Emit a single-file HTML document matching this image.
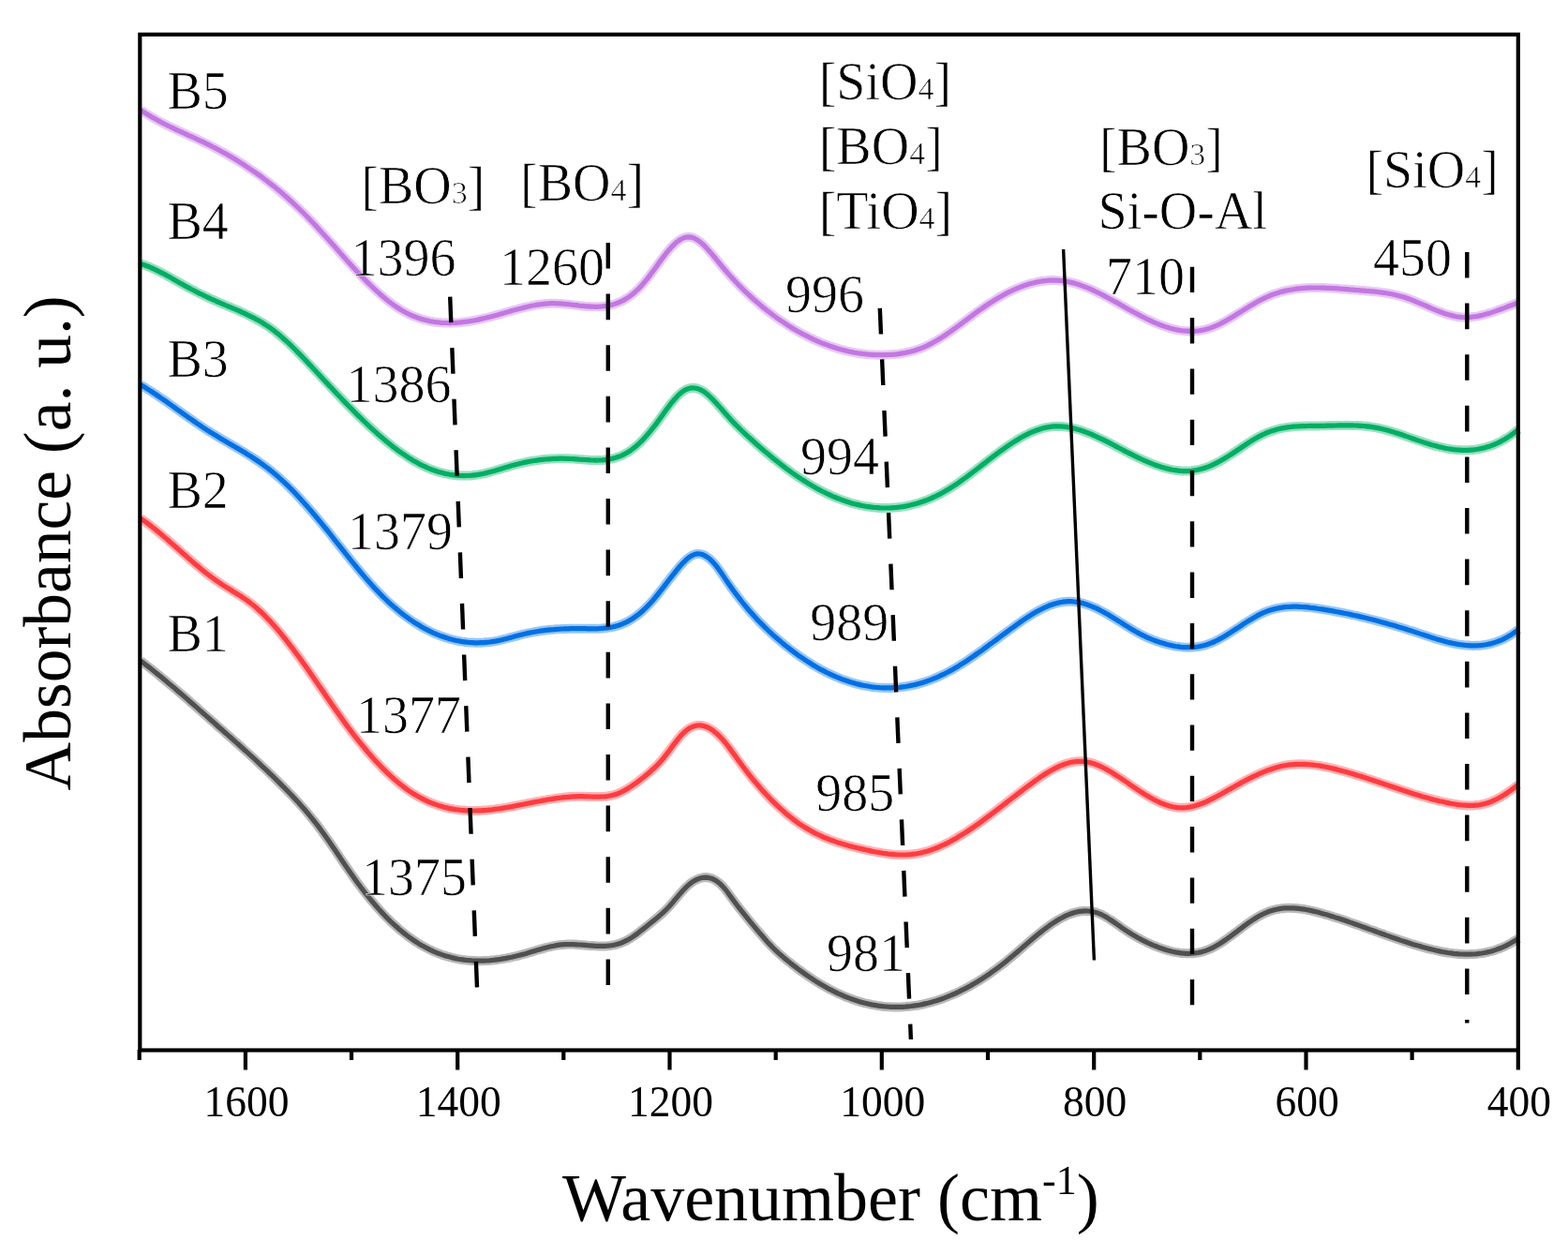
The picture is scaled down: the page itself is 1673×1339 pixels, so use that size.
<!DOCTYPE html>
<html><head><meta charset="utf-8"><title>FTIR spectra</title>
<style>
html,body{margin:0;padding:0;background:#fff;width:1673px;height:1339px;overflow:hidden}
svg{display:block}
text{font-family:"Liberation Serif","Times New Roman",serif;fill:#000}
.an{stroke:#fff;stroke-width:0.7px;paint-order:fill stroke}
.an{font-size:56px}
.tl{font-size:45.5px}
.ax{font-size:72px}
.ay{font-size:71.5px}
</style></head><body>
<svg xmlns="http://www.w3.org/2000/svg" width="1673" height="1339" viewBox="0 0 1673 1339"><rect x="0" y="0" width="1673" height="1339" fill="#fff"/>
<path d="M150.0,705.0 L153.0,707.3 L156.0,709.6 L159.0,711.9 L162.0,714.3 L165.0,716.7 L168.0,719.1 L171.0,721.6 L174.0,724.1 L177.0,726.5 L180.0,729.1 L183.0,731.6 L186.0,734.1 L189.0,736.7 L192.0,739.3 L195.0,741.8 L198.0,744.4 L201.0,747.0 L204.0,749.7 L207.0,752.3 L210.0,754.9 L213.0,757.6 L216.0,760.2 L219.0,762.9 L222.0,765.5 L225.0,768.2 L228.0,770.8 L231.0,773.5 L234.0,776.2 L237.0,778.8 L240.0,781.5 L243.0,784.1 L246.0,786.8 L249.0,789.5 L252.0,792.1 L255.0,794.8 L258.0,797.5 L261.0,800.2 L264.0,802.9 L267.0,805.7 L270.0,808.4 L273.0,811.2 L276.0,814.0 L279.0,816.8 L282.0,819.6 L285.0,822.4 L288.0,825.3 L291.0,828.2 L294.0,831.1 L297.0,834.1 L300.0,837.1 L303.0,840.1 L306.0,843.1 L309.0,846.2 L312.0,849.4 L315.0,852.6 L318.0,855.8 L321.0,859.2 L324.0,862.5 L327.0,866.0 L330.0,869.6 L333.0,873.3 L336.0,877.0 L339.0,880.9 L342.0,884.9 L345.0,889.1 L348.0,893.3 L351.0,897.6 L354.0,901.9 L357.0,906.3 L360.0,910.8 L363.0,915.2 L366.0,919.7 L369.0,924.1 L372.0,928.4 L375.0,932.8 L378.0,937.0 L381.0,941.2 L384.0,945.2 L387.0,949.2 L390.0,953.1 L393.0,956.8 L396.0,960.5 L399.0,964.0 L402.0,967.5 L405.0,970.9 L408.0,974.1 L411.0,977.3 L414.0,980.3 L417.0,983.3 L420.0,986.1 L423.0,988.8 L426.0,991.5 L429.0,994.0 L432.0,996.4 L435.0,998.7 L438.0,1000.9 L441.0,1003.0 L444.0,1005.0 L447.0,1006.9 L450.0,1008.7 L453.0,1010.3 L456.0,1011.9 L459.0,1013.4 L462.0,1014.8 L465.0,1016.1 L468.0,1017.3 L471.0,1018.4 L474.0,1019.4 L477.0,1020.3 L480.0,1021.1 L483.0,1021.9 L486.0,1022.6 L489.0,1023.2 L492.0,1023.7 L495.0,1024.1 L498.0,1024.5 L501.0,1024.7 L504.0,1025.0 L507.0,1025.1 L510.0,1025.2 L513.0,1025.2 L516.0,1025.1 L519.0,1025.0 L522.0,1024.8 L525.0,1024.5 L528.0,1024.2 L531.0,1023.8 L534.0,1023.4 L537.0,1022.9 L540.0,1022.4 L543.0,1021.8 L546.0,1021.2 L549.0,1020.5 L552.0,1019.8 L555.0,1019.0 L558.0,1018.2 L561.0,1017.4 L564.0,1016.5 L567.0,1015.6 L570.0,1014.7 L573.0,1013.8 L576.0,1012.9 L579.0,1012.1 L582.0,1011.2 L585.0,1010.5 L588.0,1009.8 L591.0,1009.2 L594.0,1008.6 L597.0,1008.2 L600.0,1007.9 L603.0,1007.7 L606.0,1007.6 L609.0,1007.6 L612.0,1007.6 L615.0,1007.8 L618.0,1008.0 L621.0,1008.2 L624.0,1008.4 L627.0,1008.7 L630.0,1008.9 L633.0,1009.1 L636.0,1009.3 L639.0,1009.4 L642.0,1009.4 L645.0,1009.4 L648.0,1009.2 L651.0,1008.9 L654.0,1008.5 L657.0,1007.8 L660.0,1007.0 L663.0,1006.0 L666.0,1004.7 L669.0,1003.2 L672.0,1001.5 L675.0,999.6 L678.0,997.5 L681.0,995.3 L684.0,992.9 L687.0,990.6 L690.0,988.2 L693.0,985.8 L696.0,983.4 L699.0,980.9 L702.0,978.5 L705.0,975.9 L708.0,973.2 L711.0,970.3 L714.0,967.2 L717.0,963.8 L720.0,960.2 L723.0,956.6 L726.0,953.1 L729.0,949.7 L732.0,946.6 L735.0,943.9 L738.0,941.5 L741.0,939.6 L744.0,938.1 L747.0,937.0 L750.0,936.3 L753.0,936.1 L756.0,936.4 L759.0,937.2 L762.0,938.5 L765.0,940.3 L768.0,942.7 L771.0,945.6 L774.0,949.0 L777.0,953.0 L780.0,957.1 L783.0,961.2 L786.0,965.2 L789.0,969.1 L792.0,972.9 L795.0,976.7 L798.0,980.4 L801.0,984.1 L804.0,987.7 L807.0,991.2 L810.0,994.8 L813.0,998.3 L816.0,1001.8 L819.0,1005.2 L822.0,1008.4 L825.0,1011.5 L828.0,1014.4 L831.0,1017.2 L834.0,1019.8 L837.0,1022.4 L840.0,1024.8 L843.0,1027.2 L846.0,1029.6 L849.0,1031.9 L852.0,1034.2 L855.0,1036.4 L858.0,1038.5 L861.0,1040.6 L864.0,1042.7 L867.0,1044.7 L870.0,1046.6 L873.0,1048.5 L876.0,1050.3 L879.0,1052.0 L882.0,1053.7 L885.0,1055.4 L888.0,1056.9 L891.0,1058.4 L894.0,1059.9 L897.0,1061.2 L900.0,1062.5 L903.0,1063.8 L906.0,1064.9 L909.0,1066.0 L912.0,1067.1 L915.0,1068.0 L918.0,1068.9 L921.0,1069.8 L924.0,1070.5 L927.0,1071.2 L930.0,1071.9 L933.0,1072.4 L936.0,1072.9 L939.0,1073.3 L942.0,1073.7 L945.0,1074.0 L948.0,1074.2 L951.0,1074.3 L954.0,1074.4 L957.0,1074.4 L960.0,1074.4 L963.0,1074.3 L966.0,1074.1 L969.0,1073.8 L972.0,1073.5 L975.0,1073.1 L978.0,1072.7 L981.0,1072.2 L984.0,1071.6 L987.0,1070.9 L990.0,1070.2 L993.0,1069.4 L996.0,1068.6 L999.0,1067.7 L1002.0,1066.7 L1005.0,1065.7 L1008.0,1064.6 L1011.0,1063.4 L1014.0,1062.2 L1017.0,1060.9 L1020.0,1059.6 L1023.0,1058.2 L1026.0,1056.7 L1029.0,1055.2 L1032.0,1053.6 L1035.0,1052.0 L1038.0,1050.2 L1041.0,1048.5 L1044.0,1046.7 L1047.0,1044.8 L1050.0,1042.8 L1053.0,1040.8 L1056.0,1038.8 L1059.0,1036.7 L1062.0,1034.5 L1065.0,1032.3 L1068.0,1030.0 L1071.0,1027.7 L1074.0,1025.3 L1077.0,1022.8 L1080.0,1020.3 L1083.0,1017.8 L1086.0,1015.2 L1089.0,1012.6 L1092.0,1010.0 L1095.0,1007.5 L1098.0,1004.9 L1101.0,1002.3 L1104.0,999.8 L1107.0,997.3 L1110.0,994.9 L1113.0,992.5 L1116.0,990.2 L1119.0,988.0 L1122.0,985.9 L1125.0,983.9 L1128.0,982.1 L1131.0,980.3 L1134.0,978.7 L1137.0,977.2 L1140.0,975.9 L1143.0,974.8 L1146.0,973.8 L1149.0,973.0 L1152.0,972.4 L1155.0,972.1 L1158.0,971.9 L1161.0,972.0 L1164.0,972.3 L1167.0,972.9 L1170.0,973.7 L1173.0,974.9 L1176.0,976.2 L1179.0,977.8 L1182.0,979.6 L1185.0,981.5 L1188.0,983.5 L1191.0,985.6 L1194.0,987.7 L1197.0,989.8 L1200.0,991.8 L1203.0,993.8 L1206.0,995.7 L1209.0,997.6 L1212.0,999.3 L1215.0,1001.0 L1218.0,1002.6 L1221.0,1004.1 L1224.0,1005.6 L1227.0,1007.0 L1230.0,1008.3 L1233.0,1009.5 L1236.0,1010.7 L1239.0,1011.7 L1242.0,1012.7 L1245.0,1013.7 L1248.0,1014.5 L1251.0,1015.3 L1254.0,1015.9 L1257.0,1016.4 L1260.0,1016.9 L1263.0,1017.1 L1266.0,1017.3 L1269.0,1017.3 L1272.0,1017.2 L1275.0,1016.9 L1278.0,1016.5 L1281.0,1015.9 L1284.0,1015.1 L1287.0,1014.1 L1290.0,1012.9 L1293.0,1011.6 L1296.0,1010.0 L1299.0,1008.3 L1302.0,1006.5 L1305.0,1004.5 L1308.0,1002.5 L1311.0,1000.3 L1314.0,998.1 L1317.0,995.9 L1320.0,993.6 L1323.0,991.4 L1326.0,989.1 L1329.0,986.9 L1332.0,984.7 L1335.0,982.7 L1338.0,980.7 L1341.0,978.8 L1344.0,977.1 L1347.0,975.5 L1350.0,974.1 L1353.0,972.8 L1356.0,971.8 L1359.0,970.9 L1362.0,970.2 L1365.0,969.6 L1368.0,969.2 L1371.0,968.9 L1374.0,968.8 L1377.0,968.8 L1380.0,968.9 L1383.0,969.1 L1386.0,969.4 L1389.0,969.8 L1392.0,970.2 L1395.0,970.8 L1398.0,971.4 L1401.0,972.1 L1404.0,972.8 L1407.0,973.6 L1410.0,974.4 L1413.0,975.3 L1416.0,976.1 L1419.0,977.0 L1422.0,977.9 L1425.0,978.9 L1428.0,979.8 L1431.0,980.8 L1434.0,981.8 L1437.0,982.8 L1440.0,983.9 L1443.0,984.9 L1446.0,986.0 L1449.0,987.0 L1452.0,988.1 L1455.0,989.2 L1458.0,990.3 L1461.0,991.4 L1464.0,992.4 L1467.0,993.5 L1470.0,994.6 L1473.0,995.7 L1476.0,996.8 L1479.0,997.9 L1482.0,998.9 L1485.0,1000.0 L1488.0,1001.0 L1491.0,1002.0 L1494.0,1003.1 L1497.0,1004.1 L1500.0,1005.0 L1503.0,1006.0 L1506.0,1007.0 L1509.0,1007.9 L1512.0,1008.8 L1515.0,1009.6 L1518.0,1010.5 L1521.0,1011.3 L1524.0,1012.1 L1527.0,1012.8 L1530.0,1013.5 L1533.0,1014.2 L1536.0,1014.9 L1539.0,1015.5 L1542.0,1016.0 L1545.0,1016.5 L1548.0,1016.9 L1551.0,1017.3 L1554.0,1017.6 L1557.0,1017.9 L1560.0,1018.0 L1563.0,1018.2 L1566.0,1018.2 L1569.0,1018.1 L1572.0,1018.0 L1575.0,1017.8 L1578.0,1017.4 L1581.0,1017.0 L1584.0,1016.5 L1587.0,1015.9 L1590.0,1015.2 L1593.0,1014.4 L1596.0,1013.4 L1599.0,1012.3 L1602.0,1011.2 L1605.0,1009.9 L1608.0,1008.4 L1611.0,1006.8 L1614.0,1005.1 L1617.0,1003.3 L1620.0,1001.3" fill="none" stroke="#505050" stroke-opacity="0.4" stroke-width="10" stroke-linejoin="round" stroke-linecap="butt"/>
<path d="M150.0,705.0 L153.0,707.3 L156.0,709.6 L159.0,711.9 L162.0,714.3 L165.0,716.7 L168.0,719.1 L171.0,721.6 L174.0,724.1 L177.0,726.5 L180.0,729.1 L183.0,731.6 L186.0,734.1 L189.0,736.7 L192.0,739.3 L195.0,741.8 L198.0,744.4 L201.0,747.0 L204.0,749.7 L207.0,752.3 L210.0,754.9 L213.0,757.6 L216.0,760.2 L219.0,762.9 L222.0,765.5 L225.0,768.2 L228.0,770.8 L231.0,773.5 L234.0,776.2 L237.0,778.8 L240.0,781.5 L243.0,784.1 L246.0,786.8 L249.0,789.5 L252.0,792.1 L255.0,794.8 L258.0,797.5 L261.0,800.2 L264.0,802.9 L267.0,805.7 L270.0,808.4 L273.0,811.2 L276.0,814.0 L279.0,816.8 L282.0,819.6 L285.0,822.4 L288.0,825.3 L291.0,828.2 L294.0,831.1 L297.0,834.1 L300.0,837.1 L303.0,840.1 L306.0,843.1 L309.0,846.2 L312.0,849.4 L315.0,852.6 L318.0,855.8 L321.0,859.2 L324.0,862.5 L327.0,866.0 L330.0,869.6 L333.0,873.3 L336.0,877.0 L339.0,880.9 L342.0,884.9 L345.0,889.1 L348.0,893.3 L351.0,897.6 L354.0,901.9 L357.0,906.3 L360.0,910.8 L363.0,915.2 L366.0,919.7 L369.0,924.1 L372.0,928.4 L375.0,932.8 L378.0,937.0 L381.0,941.2 L384.0,945.2 L387.0,949.2 L390.0,953.1 L393.0,956.8 L396.0,960.5 L399.0,964.0 L402.0,967.5 L405.0,970.9 L408.0,974.1 L411.0,977.3 L414.0,980.3 L417.0,983.3 L420.0,986.1 L423.0,988.8 L426.0,991.5 L429.0,994.0 L432.0,996.4 L435.0,998.7 L438.0,1000.9 L441.0,1003.0 L444.0,1005.0 L447.0,1006.9 L450.0,1008.7 L453.0,1010.3 L456.0,1011.9 L459.0,1013.4 L462.0,1014.8 L465.0,1016.1 L468.0,1017.3 L471.0,1018.4 L474.0,1019.4 L477.0,1020.3 L480.0,1021.1 L483.0,1021.9 L486.0,1022.6 L489.0,1023.2 L492.0,1023.7 L495.0,1024.1 L498.0,1024.5 L501.0,1024.7 L504.0,1025.0 L507.0,1025.1 L510.0,1025.2 L513.0,1025.2 L516.0,1025.1 L519.0,1025.0 L522.0,1024.8 L525.0,1024.5 L528.0,1024.2 L531.0,1023.8 L534.0,1023.4 L537.0,1022.9 L540.0,1022.4 L543.0,1021.8 L546.0,1021.2 L549.0,1020.5 L552.0,1019.8 L555.0,1019.0 L558.0,1018.2 L561.0,1017.4 L564.0,1016.5 L567.0,1015.6 L570.0,1014.7 L573.0,1013.8 L576.0,1012.9 L579.0,1012.1 L582.0,1011.2 L585.0,1010.5 L588.0,1009.8 L591.0,1009.2 L594.0,1008.6 L597.0,1008.2 L600.0,1007.9 L603.0,1007.7 L606.0,1007.6 L609.0,1007.6 L612.0,1007.6 L615.0,1007.8 L618.0,1008.0 L621.0,1008.2 L624.0,1008.4 L627.0,1008.7 L630.0,1008.9 L633.0,1009.1 L636.0,1009.3 L639.0,1009.4 L642.0,1009.4 L645.0,1009.4 L648.0,1009.2 L651.0,1008.9 L654.0,1008.5 L657.0,1007.8 L660.0,1007.0 L663.0,1006.0 L666.0,1004.7 L669.0,1003.2 L672.0,1001.5 L675.0,999.6 L678.0,997.5 L681.0,995.3 L684.0,992.9 L687.0,990.6 L690.0,988.2 L693.0,985.8 L696.0,983.4 L699.0,980.9 L702.0,978.5 L705.0,975.9 L708.0,973.2 L711.0,970.3 L714.0,967.2 L717.0,963.8 L720.0,960.2 L723.0,956.6 L726.0,953.1 L729.0,949.7 L732.0,946.6 L735.0,943.9 L738.0,941.5 L741.0,939.6 L744.0,938.1 L747.0,937.0 L750.0,936.3 L753.0,936.1 L756.0,936.4 L759.0,937.2 L762.0,938.5 L765.0,940.3 L768.0,942.7 L771.0,945.6 L774.0,949.0 L777.0,953.0 L780.0,957.1 L783.0,961.2 L786.0,965.2 L789.0,969.1 L792.0,972.9 L795.0,976.7 L798.0,980.4 L801.0,984.1 L804.0,987.7 L807.0,991.2 L810.0,994.8 L813.0,998.3 L816.0,1001.8 L819.0,1005.2 L822.0,1008.4 L825.0,1011.5 L828.0,1014.4 L831.0,1017.2 L834.0,1019.8 L837.0,1022.4 L840.0,1024.8 L843.0,1027.2 L846.0,1029.6 L849.0,1031.9 L852.0,1034.2 L855.0,1036.4 L858.0,1038.5 L861.0,1040.6 L864.0,1042.7 L867.0,1044.7 L870.0,1046.6 L873.0,1048.5 L876.0,1050.3 L879.0,1052.0 L882.0,1053.7 L885.0,1055.4 L888.0,1056.9 L891.0,1058.4 L894.0,1059.9 L897.0,1061.2 L900.0,1062.5 L903.0,1063.8 L906.0,1064.9 L909.0,1066.0 L912.0,1067.1 L915.0,1068.0 L918.0,1068.9 L921.0,1069.8 L924.0,1070.5 L927.0,1071.2 L930.0,1071.9 L933.0,1072.4 L936.0,1072.9 L939.0,1073.3 L942.0,1073.7 L945.0,1074.0 L948.0,1074.2 L951.0,1074.3 L954.0,1074.4 L957.0,1074.4 L960.0,1074.4 L963.0,1074.3 L966.0,1074.1 L969.0,1073.8 L972.0,1073.5 L975.0,1073.1 L978.0,1072.7 L981.0,1072.2 L984.0,1071.6 L987.0,1070.9 L990.0,1070.2 L993.0,1069.4 L996.0,1068.6 L999.0,1067.7 L1002.0,1066.7 L1005.0,1065.7 L1008.0,1064.6 L1011.0,1063.4 L1014.0,1062.2 L1017.0,1060.9 L1020.0,1059.6 L1023.0,1058.2 L1026.0,1056.7 L1029.0,1055.2 L1032.0,1053.6 L1035.0,1052.0 L1038.0,1050.2 L1041.0,1048.5 L1044.0,1046.7 L1047.0,1044.8 L1050.0,1042.8 L1053.0,1040.8 L1056.0,1038.8 L1059.0,1036.7 L1062.0,1034.5 L1065.0,1032.3 L1068.0,1030.0 L1071.0,1027.7 L1074.0,1025.3 L1077.0,1022.8 L1080.0,1020.3 L1083.0,1017.8 L1086.0,1015.2 L1089.0,1012.6 L1092.0,1010.0 L1095.0,1007.5 L1098.0,1004.9 L1101.0,1002.3 L1104.0,999.8 L1107.0,997.3 L1110.0,994.9 L1113.0,992.5 L1116.0,990.2 L1119.0,988.0 L1122.0,985.9 L1125.0,983.9 L1128.0,982.1 L1131.0,980.3 L1134.0,978.7 L1137.0,977.2 L1140.0,975.9 L1143.0,974.8 L1146.0,973.8 L1149.0,973.0 L1152.0,972.4 L1155.0,972.1 L1158.0,971.9 L1161.0,972.0 L1164.0,972.3 L1167.0,972.9 L1170.0,973.7 L1173.0,974.9 L1176.0,976.2 L1179.0,977.8 L1182.0,979.6 L1185.0,981.5 L1188.0,983.5 L1191.0,985.6 L1194.0,987.7 L1197.0,989.8 L1200.0,991.8 L1203.0,993.8 L1206.0,995.7 L1209.0,997.6 L1212.0,999.3 L1215.0,1001.0 L1218.0,1002.6 L1221.0,1004.1 L1224.0,1005.6 L1227.0,1007.0 L1230.0,1008.3 L1233.0,1009.5 L1236.0,1010.7 L1239.0,1011.7 L1242.0,1012.7 L1245.0,1013.7 L1248.0,1014.5 L1251.0,1015.3 L1254.0,1015.9 L1257.0,1016.4 L1260.0,1016.9 L1263.0,1017.1 L1266.0,1017.3 L1269.0,1017.3 L1272.0,1017.2 L1275.0,1016.9 L1278.0,1016.5 L1281.0,1015.9 L1284.0,1015.1 L1287.0,1014.1 L1290.0,1012.9 L1293.0,1011.6 L1296.0,1010.0 L1299.0,1008.3 L1302.0,1006.5 L1305.0,1004.5 L1308.0,1002.5 L1311.0,1000.3 L1314.0,998.1 L1317.0,995.9 L1320.0,993.6 L1323.0,991.4 L1326.0,989.1 L1329.0,986.9 L1332.0,984.7 L1335.0,982.7 L1338.0,980.7 L1341.0,978.8 L1344.0,977.1 L1347.0,975.5 L1350.0,974.1 L1353.0,972.8 L1356.0,971.8 L1359.0,970.9 L1362.0,970.2 L1365.0,969.6 L1368.0,969.2 L1371.0,968.9 L1374.0,968.8 L1377.0,968.8 L1380.0,968.9 L1383.0,969.1 L1386.0,969.4 L1389.0,969.8 L1392.0,970.2 L1395.0,970.8 L1398.0,971.4 L1401.0,972.1 L1404.0,972.8 L1407.0,973.6 L1410.0,974.4 L1413.0,975.3 L1416.0,976.1 L1419.0,977.0 L1422.0,977.9 L1425.0,978.9 L1428.0,979.8 L1431.0,980.8 L1434.0,981.8 L1437.0,982.8 L1440.0,983.9 L1443.0,984.9 L1446.0,986.0 L1449.0,987.0 L1452.0,988.1 L1455.0,989.2 L1458.0,990.3 L1461.0,991.4 L1464.0,992.4 L1467.0,993.5 L1470.0,994.6 L1473.0,995.7 L1476.0,996.8 L1479.0,997.9 L1482.0,998.9 L1485.0,1000.0 L1488.0,1001.0 L1491.0,1002.0 L1494.0,1003.1 L1497.0,1004.1 L1500.0,1005.0 L1503.0,1006.0 L1506.0,1007.0 L1509.0,1007.9 L1512.0,1008.8 L1515.0,1009.6 L1518.0,1010.5 L1521.0,1011.3 L1524.0,1012.1 L1527.0,1012.8 L1530.0,1013.5 L1533.0,1014.2 L1536.0,1014.9 L1539.0,1015.5 L1542.0,1016.0 L1545.0,1016.5 L1548.0,1016.9 L1551.0,1017.3 L1554.0,1017.6 L1557.0,1017.9 L1560.0,1018.0 L1563.0,1018.2 L1566.0,1018.2 L1569.0,1018.1 L1572.0,1018.0 L1575.0,1017.8 L1578.0,1017.4 L1581.0,1017.0 L1584.0,1016.5 L1587.0,1015.9 L1590.0,1015.2 L1593.0,1014.4 L1596.0,1013.4 L1599.0,1012.3 L1602.0,1011.2 L1605.0,1009.9 L1608.0,1008.4 L1611.0,1006.8 L1614.0,1005.1 L1617.0,1003.3 L1620.0,1001.3" fill="none" stroke="#505050" stroke-width="5.2" stroke-linejoin="round" stroke-linecap="butt"/>
<path d="M150.0,553.1 L153.0,555.2 L156.0,557.4 L159.0,559.6 L162.0,562.0 L165.0,564.3 L168.0,566.8 L171.0,569.3 L174.0,571.8 L177.0,574.4 L180.0,577.0 L183.0,579.6 L186.0,582.2 L189.0,584.9 L192.0,587.5 L195.0,590.2 L198.0,592.8 L201.0,595.5 L204.0,598.1 L207.0,600.7 L210.0,603.2 L213.0,605.8 L216.0,608.2 L219.0,610.7 L222.0,613.0 L225.0,615.3 L228.0,617.5 L231.0,619.7 L234.0,621.7 L237.0,623.7 L240.0,625.6 L243.0,627.5 L246.0,629.3 L249.0,631.2 L252.0,633.0 L255.0,634.9 L258.0,636.8 L261.0,638.8 L264.0,640.9 L267.0,643.2 L270.0,645.5 L273.0,648.0 L276.0,650.7 L279.0,653.5 L282.0,656.4 L285.0,659.5 L288.0,662.6 L291.0,665.9 L294.0,669.3 L297.0,672.8 L300.0,676.4 L303.0,680.1 L306.0,683.9 L309.0,687.8 L312.0,691.7 L315.0,695.7 L318.0,699.8 L321.0,703.9 L324.0,708.1 L327.0,712.3 L330.0,716.6 L333.0,720.9 L336.0,725.2 L339.0,729.6 L342.0,733.9 L345.0,738.3 L348.0,742.7 L351.0,747.1 L354.0,751.4 L357.0,755.7 L360.0,760.0 L363.0,764.3 L366.0,768.5 L369.0,772.6 L372.0,776.7 L375.0,780.7 L378.0,784.6 L381.0,788.5 L384.0,792.2 L387.0,795.9 L390.0,799.5 L393.0,803.1 L396.0,806.5 L399.0,809.9 L402.0,813.2 L405.0,816.3 L408.0,819.4 L411.0,822.4 L414.0,825.3 L417.0,828.1 L420.0,830.8 L423.0,833.4 L426.0,835.9 L429.0,838.3 L432.0,840.6 L435.0,842.8 L438.0,844.8 L441.0,846.8 L444.0,848.6 L447.0,850.3 L450.0,851.9 L453.0,853.4 L456.0,854.8 L459.0,856.1 L462.0,857.3 L465.0,858.4 L468.0,859.4 L471.0,860.3 L474.0,861.2 L477.0,861.9 L480.0,862.6 L483.0,863.1 L486.0,863.6 L489.0,864.0 L492.0,864.4 L495.0,864.6 L498.0,864.8 L501.0,864.9 L504.0,865.0 L507.0,865.0 L510.0,864.9 L513.0,864.8 L516.0,864.6 L519.0,864.4 L522.0,864.1 L525.0,863.8 L528.0,863.4 L531.0,863.0 L534.0,862.6 L537.0,862.1 L540.0,861.6 L543.0,861.1 L546.0,860.6 L549.0,860.0 L552.0,859.4 L555.0,858.8 L558.0,858.2 L561.0,857.6 L564.0,857.0 L567.0,856.4 L570.0,855.8 L573.0,855.2 L576.0,854.7 L579.0,854.1 L582.0,853.6 L585.0,853.0 L588.0,852.6 L591.0,852.1 L594.0,851.7 L597.0,851.3 L600.0,850.9 L603.0,850.6 L606.0,850.3 L609.0,850.1 L612.0,849.9 L615.0,849.8 L618.0,849.7 L621.0,849.7 L624.0,849.8 L627.0,849.9 L630.0,850.0 L633.0,850.1 L636.0,850.1 L639.0,850.1 L642.0,850.0 L645.0,849.8 L648.0,849.5 L651.0,849.0 L654.0,848.3 L657.0,847.5 L660.0,846.4 L663.0,845.0 L666.0,843.5 L669.0,841.8 L672.0,839.9 L675.0,837.9 L678.0,835.8 L681.0,833.6 L684.0,831.3 L687.0,829.0 L690.0,826.5 L693.0,824.0 L696.0,821.3 L699.0,818.5 L702.0,815.5 L705.0,812.2 L708.0,808.7 L711.0,804.9 L714.0,801.0 L717.0,796.9 L720.0,792.9 L723.0,789.0 L726.0,785.4 L729.0,782.2 L732.0,779.5 L735.0,777.3 L738.0,775.7 L741.0,774.6 L744.0,774.0 L747.0,773.9 L750.0,774.3 L753.0,775.2 L756.0,776.5 L759.0,778.2 L762.0,780.4 L765.0,782.9 L768.0,785.8 L771.0,789.0 L774.0,792.5 L777.0,796.4 L780.0,800.4 L783.0,804.6 L786.0,808.8 L789.0,812.9 L792.0,817.0 L795.0,820.9 L798.0,824.8 L801.0,828.6 L804.0,832.3 L807.0,835.8 L810.0,839.3 L813.0,842.7 L816.0,846.0 L819.0,849.3 L822.0,852.4 L825.0,855.4 L828.0,858.3 L831.0,861.2 L834.0,863.9 L837.0,866.5 L840.0,869.1 L843.0,871.5 L846.0,873.9 L849.0,876.1 L852.0,878.3 L855.0,880.3 L858.0,882.3 L861.0,884.1 L864.0,885.8 L867.0,887.5 L870.0,889.1 L873.0,890.5 L876.0,891.9 L879.0,893.3 L882.0,894.5 L885.0,895.7 L888.0,896.8 L891.0,897.9 L894.0,898.9 L897.0,899.8 L900.0,900.7 L903.0,901.6 L906.0,902.4 L909.0,903.2 L912.0,904.0 L915.0,904.7 L918.0,905.4 L921.0,906.1 L924.0,906.8 L927.0,907.4 L930.0,908.1 L933.0,908.7 L936.0,909.3 L939.0,909.8 L942.0,910.3 L945.0,910.7 L948.0,911.1 L951.0,911.4 L954.0,911.7 L957.0,911.9 L960.0,912.0 L963.0,912.0 L966.0,912.0 L969.0,911.8 L972.0,911.6 L975.0,911.2 L978.0,910.8 L981.0,910.3 L984.0,909.6 L987.0,908.8 L990.0,908.0 L993.0,907.0 L996.0,905.9 L999.0,904.8 L1002.0,903.5 L1005.0,902.2 L1008.0,900.8 L1011.0,899.3 L1014.0,897.8 L1017.0,896.1 L1020.0,894.4 L1023.0,892.6 L1026.0,890.8 L1029.0,888.9 L1032.0,887.0 L1035.0,885.0 L1038.0,883.0 L1041.0,880.9 L1044.0,878.8 L1047.0,876.6 L1050.0,874.4 L1053.0,872.2 L1056.0,869.9 L1059.0,867.7 L1062.0,865.4 L1065.0,863.1 L1068.0,860.8 L1071.0,858.5 L1074.0,856.1 L1077.0,853.8 L1080.0,851.5 L1083.0,849.2 L1086.0,846.9 L1089.0,844.6 L1092.0,842.3 L1095.0,840.0 L1098.0,837.8 L1101.0,835.6 L1104.0,833.4 L1107.0,831.3 L1110.0,829.2 L1113.0,827.2 L1116.0,825.3 L1119.0,823.5 L1122.0,821.7 L1125.0,820.1 L1128.0,818.6 L1131.0,817.2 L1134.0,816.0 L1137.0,814.9 L1140.0,814.0 L1143.0,813.3 L1146.0,812.8 L1149.0,812.4 L1152.0,812.3 L1155.0,812.3 L1158.0,812.6 L1161.0,813.2 L1164.0,813.9 L1167.0,814.8 L1170.0,815.9 L1173.0,817.1 L1176.0,818.5 L1179.0,820.0 L1182.0,821.7 L1185.0,823.4 L1188.0,825.3 L1191.0,827.2 L1194.0,829.1 L1197.0,831.1 L1200.0,833.2 L1203.0,835.2 L1206.0,837.3 L1209.0,839.3 L1212.0,841.3 L1215.0,843.3 L1218.0,845.3 L1221.0,847.2 L1224.0,849.0 L1227.0,850.8 L1230.0,852.5 L1233.0,854.0 L1236.0,855.5 L1239.0,856.8 L1242.0,858.0 L1245.0,859.1 L1248.0,860.0 L1251.0,860.7 L1254.0,861.3 L1257.0,861.7 L1260.0,861.8 L1263.0,861.8 L1266.0,861.5 L1269.0,861.1 L1272.0,860.5 L1275.0,859.7 L1278.0,858.8 L1281.0,857.7 L1284.0,856.6 L1287.0,855.3 L1290.0,853.9 L1293.0,852.4 L1296.0,850.9 L1299.0,849.3 L1302.0,847.7 L1305.0,846.0 L1308.0,844.3 L1311.0,842.6 L1314.0,840.9 L1317.0,839.3 L1320.0,837.6 L1323.0,835.9 L1326.0,834.3 L1329.0,832.7 L1332.0,831.2 L1335.0,829.7 L1338.0,828.2 L1341.0,826.8 L1344.0,825.4 L1347.0,824.1 L1350.0,822.9 L1353.0,821.7 L1356.0,820.7 L1359.0,819.7 L1362.0,818.8 L1365.0,818.0 L1368.0,817.3 L1371.0,816.7 L1374.0,816.2 L1377.0,815.9 L1380.0,815.6 L1383.0,815.4 L1386.0,815.3 L1389.0,815.3 L1392.0,815.4 L1395.0,815.6 L1398.0,815.8 L1401.0,816.1 L1404.0,816.5 L1407.0,816.9 L1410.0,817.4 L1413.0,818.0 L1416.0,818.5 L1419.0,819.2 L1422.0,819.9 L1425.0,820.6 L1428.0,821.4 L1431.0,822.2 L1434.0,823.0 L1437.0,823.8 L1440.0,824.7 L1443.0,825.6 L1446.0,826.5 L1449.0,827.4 L1452.0,828.3 L1455.0,829.3 L1458.0,830.3 L1461.0,831.2 L1464.0,832.2 L1467.0,833.2 L1470.0,834.2 L1473.0,835.3 L1476.0,836.3 L1479.0,837.3 L1482.0,838.3 L1485.0,839.3 L1488.0,840.3 L1491.0,841.3 L1494.0,842.3 L1497.0,843.3 L1500.0,844.3 L1503.0,845.3 L1506.0,846.2 L1509.0,847.2 L1512.0,848.1 L1515.0,849.0 L1518.0,849.9 L1521.0,850.7 L1524.0,851.6 L1527.0,852.4 L1530.0,853.2 L1533.0,853.9 L1536.0,854.7 L1539.0,855.3 L1542.0,856.0 L1545.0,856.6 L1548.0,857.2 L1551.0,857.7 L1554.0,858.2 L1557.0,858.7 L1560.0,859.0 L1563.0,859.2 L1566.0,859.4 L1569.0,859.4 L1572.0,859.4 L1575.0,859.1 L1578.0,858.8 L1581.0,858.2 L1584.0,857.6 L1587.0,856.7 L1590.0,855.6 L1593.0,854.4 L1596.0,853.0 L1599.0,851.5 L1602.0,849.8 L1605.0,848.0 L1608.0,846.0 L1611.0,843.9 L1614.0,841.7 L1617.0,839.4 L1620.0,837.1" fill="none" stroke="#FF3C40" stroke-opacity="0.4" stroke-width="10" stroke-linejoin="round" stroke-linecap="butt"/>
<path d="M150.0,553.1 L153.0,555.2 L156.0,557.4 L159.0,559.6 L162.0,562.0 L165.0,564.3 L168.0,566.8 L171.0,569.3 L174.0,571.8 L177.0,574.4 L180.0,577.0 L183.0,579.6 L186.0,582.2 L189.0,584.9 L192.0,587.5 L195.0,590.2 L198.0,592.8 L201.0,595.5 L204.0,598.1 L207.0,600.7 L210.0,603.2 L213.0,605.8 L216.0,608.2 L219.0,610.7 L222.0,613.0 L225.0,615.3 L228.0,617.5 L231.0,619.7 L234.0,621.7 L237.0,623.7 L240.0,625.6 L243.0,627.5 L246.0,629.3 L249.0,631.2 L252.0,633.0 L255.0,634.9 L258.0,636.8 L261.0,638.8 L264.0,640.9 L267.0,643.2 L270.0,645.5 L273.0,648.0 L276.0,650.7 L279.0,653.5 L282.0,656.4 L285.0,659.5 L288.0,662.6 L291.0,665.9 L294.0,669.3 L297.0,672.8 L300.0,676.4 L303.0,680.1 L306.0,683.9 L309.0,687.8 L312.0,691.7 L315.0,695.7 L318.0,699.8 L321.0,703.9 L324.0,708.1 L327.0,712.3 L330.0,716.6 L333.0,720.9 L336.0,725.2 L339.0,729.6 L342.0,733.9 L345.0,738.3 L348.0,742.7 L351.0,747.1 L354.0,751.4 L357.0,755.7 L360.0,760.0 L363.0,764.3 L366.0,768.5 L369.0,772.6 L372.0,776.7 L375.0,780.7 L378.0,784.6 L381.0,788.5 L384.0,792.2 L387.0,795.9 L390.0,799.5 L393.0,803.1 L396.0,806.5 L399.0,809.9 L402.0,813.2 L405.0,816.3 L408.0,819.4 L411.0,822.4 L414.0,825.3 L417.0,828.1 L420.0,830.8 L423.0,833.4 L426.0,835.9 L429.0,838.3 L432.0,840.6 L435.0,842.8 L438.0,844.8 L441.0,846.8 L444.0,848.6 L447.0,850.3 L450.0,851.9 L453.0,853.4 L456.0,854.8 L459.0,856.1 L462.0,857.3 L465.0,858.4 L468.0,859.4 L471.0,860.3 L474.0,861.2 L477.0,861.9 L480.0,862.6 L483.0,863.1 L486.0,863.6 L489.0,864.0 L492.0,864.4 L495.0,864.6 L498.0,864.8 L501.0,864.9 L504.0,865.0 L507.0,865.0 L510.0,864.9 L513.0,864.8 L516.0,864.6 L519.0,864.4 L522.0,864.1 L525.0,863.8 L528.0,863.4 L531.0,863.0 L534.0,862.6 L537.0,862.1 L540.0,861.6 L543.0,861.1 L546.0,860.6 L549.0,860.0 L552.0,859.4 L555.0,858.8 L558.0,858.2 L561.0,857.6 L564.0,857.0 L567.0,856.4 L570.0,855.8 L573.0,855.2 L576.0,854.7 L579.0,854.1 L582.0,853.6 L585.0,853.0 L588.0,852.6 L591.0,852.1 L594.0,851.7 L597.0,851.3 L600.0,850.9 L603.0,850.6 L606.0,850.3 L609.0,850.1 L612.0,849.9 L615.0,849.8 L618.0,849.7 L621.0,849.7 L624.0,849.8 L627.0,849.9 L630.0,850.0 L633.0,850.1 L636.0,850.1 L639.0,850.1 L642.0,850.0 L645.0,849.8 L648.0,849.5 L651.0,849.0 L654.0,848.3 L657.0,847.5 L660.0,846.4 L663.0,845.0 L666.0,843.5 L669.0,841.8 L672.0,839.9 L675.0,837.9 L678.0,835.8 L681.0,833.6 L684.0,831.3 L687.0,829.0 L690.0,826.5 L693.0,824.0 L696.0,821.3 L699.0,818.5 L702.0,815.5 L705.0,812.2 L708.0,808.7 L711.0,804.9 L714.0,801.0 L717.0,796.9 L720.0,792.9 L723.0,789.0 L726.0,785.4 L729.0,782.2 L732.0,779.5 L735.0,777.3 L738.0,775.7 L741.0,774.6 L744.0,774.0 L747.0,773.9 L750.0,774.3 L753.0,775.2 L756.0,776.5 L759.0,778.2 L762.0,780.4 L765.0,782.9 L768.0,785.8 L771.0,789.0 L774.0,792.5 L777.0,796.4 L780.0,800.4 L783.0,804.6 L786.0,808.8 L789.0,812.9 L792.0,817.0 L795.0,820.9 L798.0,824.8 L801.0,828.6 L804.0,832.3 L807.0,835.8 L810.0,839.3 L813.0,842.7 L816.0,846.0 L819.0,849.3 L822.0,852.4 L825.0,855.4 L828.0,858.3 L831.0,861.2 L834.0,863.9 L837.0,866.5 L840.0,869.1 L843.0,871.5 L846.0,873.9 L849.0,876.1 L852.0,878.3 L855.0,880.3 L858.0,882.3 L861.0,884.1 L864.0,885.8 L867.0,887.5 L870.0,889.1 L873.0,890.5 L876.0,891.9 L879.0,893.3 L882.0,894.5 L885.0,895.7 L888.0,896.8 L891.0,897.9 L894.0,898.9 L897.0,899.8 L900.0,900.7 L903.0,901.6 L906.0,902.4 L909.0,903.2 L912.0,904.0 L915.0,904.7 L918.0,905.4 L921.0,906.1 L924.0,906.8 L927.0,907.4 L930.0,908.1 L933.0,908.7 L936.0,909.3 L939.0,909.8 L942.0,910.3 L945.0,910.7 L948.0,911.1 L951.0,911.4 L954.0,911.7 L957.0,911.9 L960.0,912.0 L963.0,912.0 L966.0,912.0 L969.0,911.8 L972.0,911.6 L975.0,911.2 L978.0,910.8 L981.0,910.3 L984.0,909.6 L987.0,908.8 L990.0,908.0 L993.0,907.0 L996.0,905.9 L999.0,904.8 L1002.0,903.5 L1005.0,902.2 L1008.0,900.8 L1011.0,899.3 L1014.0,897.8 L1017.0,896.1 L1020.0,894.4 L1023.0,892.6 L1026.0,890.8 L1029.0,888.9 L1032.0,887.0 L1035.0,885.0 L1038.0,883.0 L1041.0,880.9 L1044.0,878.8 L1047.0,876.6 L1050.0,874.4 L1053.0,872.2 L1056.0,869.9 L1059.0,867.7 L1062.0,865.4 L1065.0,863.1 L1068.0,860.8 L1071.0,858.5 L1074.0,856.1 L1077.0,853.8 L1080.0,851.5 L1083.0,849.2 L1086.0,846.9 L1089.0,844.6 L1092.0,842.3 L1095.0,840.0 L1098.0,837.8 L1101.0,835.6 L1104.0,833.4 L1107.0,831.3 L1110.0,829.2 L1113.0,827.2 L1116.0,825.3 L1119.0,823.5 L1122.0,821.7 L1125.0,820.1 L1128.0,818.6 L1131.0,817.2 L1134.0,816.0 L1137.0,814.9 L1140.0,814.0 L1143.0,813.3 L1146.0,812.8 L1149.0,812.4 L1152.0,812.3 L1155.0,812.3 L1158.0,812.6 L1161.0,813.2 L1164.0,813.9 L1167.0,814.8 L1170.0,815.9 L1173.0,817.1 L1176.0,818.5 L1179.0,820.0 L1182.0,821.7 L1185.0,823.4 L1188.0,825.3 L1191.0,827.2 L1194.0,829.1 L1197.0,831.1 L1200.0,833.2 L1203.0,835.2 L1206.0,837.3 L1209.0,839.3 L1212.0,841.3 L1215.0,843.3 L1218.0,845.3 L1221.0,847.2 L1224.0,849.0 L1227.0,850.8 L1230.0,852.5 L1233.0,854.0 L1236.0,855.5 L1239.0,856.8 L1242.0,858.0 L1245.0,859.1 L1248.0,860.0 L1251.0,860.7 L1254.0,861.3 L1257.0,861.7 L1260.0,861.8 L1263.0,861.8 L1266.0,861.5 L1269.0,861.1 L1272.0,860.5 L1275.0,859.7 L1278.0,858.8 L1281.0,857.7 L1284.0,856.6 L1287.0,855.3 L1290.0,853.9 L1293.0,852.4 L1296.0,850.9 L1299.0,849.3 L1302.0,847.7 L1305.0,846.0 L1308.0,844.3 L1311.0,842.6 L1314.0,840.9 L1317.0,839.3 L1320.0,837.6 L1323.0,835.9 L1326.0,834.3 L1329.0,832.7 L1332.0,831.2 L1335.0,829.7 L1338.0,828.2 L1341.0,826.8 L1344.0,825.4 L1347.0,824.1 L1350.0,822.9 L1353.0,821.7 L1356.0,820.7 L1359.0,819.7 L1362.0,818.8 L1365.0,818.0 L1368.0,817.3 L1371.0,816.7 L1374.0,816.2 L1377.0,815.9 L1380.0,815.6 L1383.0,815.4 L1386.0,815.3 L1389.0,815.3 L1392.0,815.4 L1395.0,815.6 L1398.0,815.8 L1401.0,816.1 L1404.0,816.5 L1407.0,816.9 L1410.0,817.4 L1413.0,818.0 L1416.0,818.5 L1419.0,819.2 L1422.0,819.9 L1425.0,820.6 L1428.0,821.4 L1431.0,822.2 L1434.0,823.0 L1437.0,823.8 L1440.0,824.7 L1443.0,825.6 L1446.0,826.5 L1449.0,827.4 L1452.0,828.3 L1455.0,829.3 L1458.0,830.3 L1461.0,831.2 L1464.0,832.2 L1467.0,833.2 L1470.0,834.2 L1473.0,835.3 L1476.0,836.3 L1479.0,837.3 L1482.0,838.3 L1485.0,839.3 L1488.0,840.3 L1491.0,841.3 L1494.0,842.3 L1497.0,843.3 L1500.0,844.3 L1503.0,845.3 L1506.0,846.2 L1509.0,847.2 L1512.0,848.1 L1515.0,849.0 L1518.0,849.9 L1521.0,850.7 L1524.0,851.6 L1527.0,852.4 L1530.0,853.2 L1533.0,853.9 L1536.0,854.7 L1539.0,855.3 L1542.0,856.0 L1545.0,856.6 L1548.0,857.2 L1551.0,857.7 L1554.0,858.2 L1557.0,858.7 L1560.0,859.0 L1563.0,859.2 L1566.0,859.4 L1569.0,859.4 L1572.0,859.4 L1575.0,859.1 L1578.0,858.8 L1581.0,858.2 L1584.0,857.6 L1587.0,856.7 L1590.0,855.6 L1593.0,854.4 L1596.0,853.0 L1599.0,851.5 L1602.0,849.8 L1605.0,848.0 L1608.0,846.0 L1611.0,843.9 L1614.0,841.7 L1617.0,839.4 L1620.0,837.1" fill="none" stroke="#FF3C40" stroke-width="5.2" stroke-linejoin="round" stroke-linecap="butt"/>
<path d="M150.0,410.6 L153.0,412.3 L156.0,414.2 L159.0,416.1 L162.0,418.0 L165.0,420.0 L168.0,422.0 L171.0,424.1 L174.0,426.1 L177.0,428.2 L180.0,430.3 L183.0,432.5 L186.0,434.6 L189.0,436.8 L192.0,438.9 L195.0,441.1 L198.0,443.2 L201.0,445.3 L204.0,447.4 L207.0,449.5 L210.0,451.6 L213.0,453.6 L216.0,455.7 L219.0,457.6 L222.0,459.6 L225.0,461.4 L228.0,463.3 L231.0,465.1 L234.0,466.9 L237.0,468.7 L240.0,470.4 L243.0,472.2 L246.0,473.9 L249.0,475.7 L252.0,477.4 L255.0,479.2 L258.0,481.0 L261.0,482.8 L264.0,484.7 L267.0,486.5 L270.0,488.5 L273.0,490.5 L276.0,492.5 L279.0,494.6 L282.0,496.8 L285.0,499.0 L288.0,501.4 L291.0,503.8 L294.0,506.3 L297.0,508.9 L300.0,511.6 L303.0,514.4 L306.0,517.2 L309.0,520.2 L312.0,523.2 L315.0,526.3 L318.0,529.5 L321.0,532.7 L324.0,536.1 L327.0,539.4 L330.0,542.9 L333.0,546.3 L336.0,549.9 L339.0,553.5 L342.0,557.1 L345.0,560.8 L348.0,564.5 L351.0,568.2 L354.0,572.0 L357.0,575.8 L360.0,579.6 L363.0,583.4 L366.0,587.2 L369.0,591.0 L372.0,594.7 L375.0,598.5 L378.0,602.2 L381.0,605.9 L384.0,609.5 L387.0,613.1 L390.0,616.6 L393.0,620.0 L396.0,623.4 L399.0,626.7 L402.0,629.9 L405.0,633.0 L408.0,636.1 L411.0,639.0 L414.0,641.8 L417.0,644.6 L420.0,647.2 L423.0,649.8 L426.0,652.3 L429.0,654.7 L432.0,657.0 L435.0,659.2 L438.0,661.3 L441.0,663.3 L444.0,665.3 L447.0,667.1 L450.0,668.9 L453.0,670.6 L456.0,672.1 L459.0,673.6 L462.0,675.1 L465.0,676.4 L468.0,677.6 L471.0,678.8 L474.0,679.8 L477.0,680.8 L480.0,681.7 L483.0,682.5 L486.0,683.2 L489.0,683.8 L492.0,684.4 L495.0,684.8 L498.0,685.2 L501.0,685.5 L504.0,685.6 L507.0,685.8 L510.0,685.8 L513.0,685.7 L516.0,685.6 L519.0,685.3 L522.0,685.0 L525.0,684.6 L528.0,684.2 L531.0,683.6 L534.0,683.0 L537.0,682.2 L540.0,681.5 L543.0,680.7 L546.0,679.9 L549.0,679.1 L552.0,678.3 L555.0,677.5 L558.0,676.7 L561.0,676.0 L564.0,675.4 L567.0,674.8 L570.0,674.2 L573.0,673.7 L576.0,673.2 L579.0,672.8 L582.0,672.4 L585.0,672.1 L588.0,671.8 L591.0,671.6 L594.0,671.3 L597.0,671.2 L600.0,671.0 L603.0,670.9 L606.0,670.8 L609.0,670.7 L612.0,670.7 L615.0,670.7 L618.0,670.7 L621.0,670.7 L624.0,670.7 L627.0,670.8 L630.0,670.8 L633.0,670.8 L636.0,670.8 L639.0,670.7 L642.0,670.5 L645.0,670.2 L648.0,669.9 L651.0,669.4 L654.0,668.8 L657.0,668.1 L660.0,667.2 L663.0,666.1 L666.0,664.9 L669.0,663.5 L672.0,661.8 L675.0,660.0 L678.0,657.9 L681.0,655.7 L684.0,653.2 L687.0,650.5 L690.0,647.6 L693.0,644.5 L696.0,641.2 L699.0,637.7 L702.0,634.0 L705.0,630.2 L708.0,626.3 L711.0,622.4 L714.0,618.5 L717.0,614.6 L720.0,610.8 L723.0,607.1 L726.0,603.5 L729.0,600.3 L732.0,597.3 L735.0,594.8 L738.0,592.9 L741.0,591.5 L744.0,590.9 L747.0,591.0 L750.0,591.8 L753.0,593.3 L756.0,595.4 L759.0,598.0 L762.0,601.2 L765.0,604.9 L768.0,609.0 L771.0,613.4 L774.0,617.9 L777.0,622.3 L780.0,626.6 L783.0,630.8 L786.0,634.8 L789.0,638.7 L792.0,642.5 L795.0,646.2 L798.0,649.8 L801.0,653.3 L804.0,656.6 L807.0,659.9 L810.0,663.1 L813.0,666.1 L816.0,669.1 L819.0,672.0 L822.0,674.8 L825.0,677.6 L828.0,680.2 L831.0,682.8 L834.0,685.4 L837.0,687.9 L840.0,690.3 L843.0,692.6 L846.0,694.9 L849.0,697.1 L852.0,699.3 L855.0,701.4 L858.0,703.4 L861.0,705.4 L864.0,707.3 L867.0,709.2 L870.0,711.0 L873.0,712.7 L876.0,714.4 L879.0,715.9 L882.0,717.5 L885.0,718.9 L888.0,720.3 L891.0,721.7 L894.0,722.9 L897.0,724.1 L900.0,725.3 L903.0,726.3 L906.0,727.3 L909.0,728.2 L912.0,729.1 L915.0,729.9 L918.0,730.6 L921.0,731.3 L924.0,731.8 L927.0,732.3 L930.0,732.8 L933.0,733.2 L936.0,733.5 L939.0,733.7 L942.0,733.8 L945.0,733.9 L948.0,733.9 L951.0,733.9 L954.0,733.7 L957.0,733.5 L960.0,733.3 L963.0,732.9 L966.0,732.5 L969.0,732.0 L972.0,731.4 L975.0,730.8 L978.0,730.1 L981.0,729.3 L984.0,728.4 L987.0,727.5 L990.0,726.4 L993.0,725.4 L996.0,724.2 L999.0,723.0 L1002.0,721.6 L1005.0,720.2 L1008.0,718.8 L1011.0,717.2 L1014.0,715.6 L1017.0,714.0 L1020.0,712.2 L1023.0,710.4 L1026.0,708.5 L1029.0,706.6 L1032.0,704.7 L1035.0,702.7 L1038.0,700.6 L1041.0,698.5 L1044.0,696.4 L1047.0,694.3 L1050.0,692.1 L1053.0,689.9 L1056.0,687.7 L1059.0,685.5 L1062.0,683.3 L1065.0,681.1 L1068.0,678.8 L1071.0,676.6 L1074.0,674.4 L1077.0,672.2 L1080.0,670.0 L1083.0,667.8 L1086.0,665.6 L1089.0,663.5 L1092.0,661.4 L1095.0,659.4 L1098.0,657.5 L1101.0,655.6 L1104.0,653.8 L1107.0,652.1 L1110.0,650.5 L1113.0,649.0 L1116.0,647.6 L1119.0,646.3 L1122.0,645.2 L1125.0,644.2 L1128.0,643.4 L1131.0,642.7 L1134.0,642.2 L1137.0,641.9 L1140.0,641.7 L1143.0,641.7 L1146.0,642.0 L1149.0,642.4 L1152.0,642.9 L1155.0,643.6 L1158.0,644.5 L1161.0,645.5 L1164.0,646.6 L1167.0,647.9 L1170.0,649.2 L1173.0,650.7 L1176.0,652.3 L1179.0,653.9 L1182.0,655.6 L1185.0,657.4 L1188.0,659.2 L1191.0,661.1 L1194.0,662.9 L1197.0,664.8 L1200.0,666.7 L1203.0,668.6 L1206.0,670.4 L1209.0,672.2 L1212.0,674.0 L1215.0,675.6 L1218.0,677.2 L1221.0,678.7 L1224.0,680.1 L1227.0,681.4 L1230.0,682.6 L1233.0,683.7 L1236.0,684.8 L1239.0,685.7 L1242.0,686.6 L1245.0,687.5 L1248.0,688.2 L1251.0,688.9 L1254.0,689.5 L1257.0,689.9 L1260.0,690.3 L1263.0,690.6 L1266.0,690.7 L1269.0,690.7 L1272.0,690.6 L1275.0,690.4 L1278.0,690.0 L1281.0,689.5 L1284.0,688.8 L1287.0,688.0 L1290.0,686.9 L1293.0,685.8 L1296.0,684.5 L1299.0,683.0 L1302.0,681.4 L1305.0,679.7 L1308.0,677.9 L1311.0,676.1 L1314.0,674.2 L1317.0,672.2 L1320.0,670.3 L1323.0,668.3 L1326.0,666.3 L1329.0,664.4 L1332.0,662.5 L1335.0,660.7 L1338.0,658.9 L1341.0,657.2 L1344.0,655.7 L1347.0,654.2 L1350.0,652.9 L1353.0,651.8 L1356.0,650.8 L1359.0,649.9 L1362.0,649.2 L1365.0,648.6 L1368.0,648.1 L1371.0,647.7 L1374.0,647.5 L1377.0,647.3 L1380.0,647.2 L1383.0,647.2 L1386.0,647.3 L1389.0,647.5 L1392.0,647.7 L1395.0,647.9 L1398.0,648.3 L1401.0,648.6 L1404.0,649.0 L1407.0,649.5 L1410.0,649.9 L1413.0,650.4 L1416.0,650.9 L1419.0,651.4 L1422.0,651.9 L1425.0,652.5 L1428.0,653.0 L1431.0,653.6 L1434.0,654.2 L1437.0,654.8 L1440.0,655.4 L1443.0,656.1 L1446.0,656.7 L1449.0,657.4 L1452.0,658.1 L1455.0,658.8 L1458.0,659.5 L1461.0,660.3 L1464.0,661.0 L1467.0,661.8 L1470.0,662.6 L1473.0,663.4 L1476.0,664.2 L1479.0,665.0 L1482.0,665.9 L1485.0,666.7 L1488.0,667.6 L1491.0,668.5 L1494.0,669.4 L1497.0,670.3 L1500.0,671.2 L1503.0,672.2 L1506.0,673.1 L1509.0,674.1 L1512.0,675.1 L1515.0,676.1 L1518.0,677.1 L1521.0,678.0 L1524.0,679.0 L1527.0,680.0 L1530.0,680.9 L1533.0,681.9 L1536.0,682.7 L1539.0,683.6 L1542.0,684.4 L1545.0,685.2 L1548.0,685.9 L1551.0,686.5 L1554.0,687.1 L1557.0,687.6 L1560.0,688.0 L1563.0,688.4 L1566.0,688.6 L1569.0,688.8 L1572.0,688.9 L1575.0,688.8 L1578.0,688.7 L1581.0,688.4 L1584.0,688.0 L1587.0,687.5 L1590.0,686.9 L1593.0,686.1 L1596.0,685.1 L1599.0,684.0 L1602.0,682.8 L1605.0,681.4 L1608.0,679.8 L1611.0,678.1 L1614.0,676.1 L1617.0,674.0 L1620.0,671.7" fill="none" stroke="#0070E4" stroke-opacity="0.4" stroke-width="10" stroke-linejoin="round" stroke-linecap="butt"/>
<path d="M150.0,410.6 L153.0,412.3 L156.0,414.2 L159.0,416.1 L162.0,418.0 L165.0,420.0 L168.0,422.0 L171.0,424.1 L174.0,426.1 L177.0,428.2 L180.0,430.3 L183.0,432.5 L186.0,434.6 L189.0,436.8 L192.0,438.9 L195.0,441.1 L198.0,443.2 L201.0,445.3 L204.0,447.4 L207.0,449.5 L210.0,451.6 L213.0,453.6 L216.0,455.7 L219.0,457.6 L222.0,459.6 L225.0,461.4 L228.0,463.3 L231.0,465.1 L234.0,466.9 L237.0,468.7 L240.0,470.4 L243.0,472.2 L246.0,473.9 L249.0,475.7 L252.0,477.4 L255.0,479.2 L258.0,481.0 L261.0,482.8 L264.0,484.7 L267.0,486.5 L270.0,488.5 L273.0,490.5 L276.0,492.5 L279.0,494.6 L282.0,496.8 L285.0,499.0 L288.0,501.4 L291.0,503.8 L294.0,506.3 L297.0,508.9 L300.0,511.6 L303.0,514.4 L306.0,517.2 L309.0,520.2 L312.0,523.2 L315.0,526.3 L318.0,529.5 L321.0,532.7 L324.0,536.1 L327.0,539.4 L330.0,542.9 L333.0,546.3 L336.0,549.9 L339.0,553.5 L342.0,557.1 L345.0,560.8 L348.0,564.5 L351.0,568.2 L354.0,572.0 L357.0,575.8 L360.0,579.6 L363.0,583.4 L366.0,587.2 L369.0,591.0 L372.0,594.7 L375.0,598.5 L378.0,602.2 L381.0,605.9 L384.0,609.5 L387.0,613.1 L390.0,616.6 L393.0,620.0 L396.0,623.4 L399.0,626.7 L402.0,629.9 L405.0,633.0 L408.0,636.1 L411.0,639.0 L414.0,641.8 L417.0,644.6 L420.0,647.2 L423.0,649.8 L426.0,652.3 L429.0,654.7 L432.0,657.0 L435.0,659.2 L438.0,661.3 L441.0,663.3 L444.0,665.3 L447.0,667.1 L450.0,668.9 L453.0,670.6 L456.0,672.1 L459.0,673.6 L462.0,675.1 L465.0,676.4 L468.0,677.6 L471.0,678.8 L474.0,679.8 L477.0,680.8 L480.0,681.7 L483.0,682.5 L486.0,683.2 L489.0,683.8 L492.0,684.4 L495.0,684.8 L498.0,685.2 L501.0,685.5 L504.0,685.6 L507.0,685.8 L510.0,685.8 L513.0,685.7 L516.0,685.6 L519.0,685.3 L522.0,685.0 L525.0,684.6 L528.0,684.2 L531.0,683.6 L534.0,683.0 L537.0,682.2 L540.0,681.5 L543.0,680.7 L546.0,679.9 L549.0,679.1 L552.0,678.3 L555.0,677.5 L558.0,676.7 L561.0,676.0 L564.0,675.4 L567.0,674.8 L570.0,674.2 L573.0,673.7 L576.0,673.2 L579.0,672.8 L582.0,672.4 L585.0,672.1 L588.0,671.8 L591.0,671.6 L594.0,671.3 L597.0,671.2 L600.0,671.0 L603.0,670.9 L606.0,670.8 L609.0,670.7 L612.0,670.7 L615.0,670.7 L618.0,670.7 L621.0,670.7 L624.0,670.7 L627.0,670.8 L630.0,670.8 L633.0,670.8 L636.0,670.8 L639.0,670.7 L642.0,670.5 L645.0,670.2 L648.0,669.9 L651.0,669.4 L654.0,668.8 L657.0,668.1 L660.0,667.2 L663.0,666.1 L666.0,664.9 L669.0,663.5 L672.0,661.8 L675.0,660.0 L678.0,657.9 L681.0,655.7 L684.0,653.2 L687.0,650.5 L690.0,647.6 L693.0,644.5 L696.0,641.2 L699.0,637.7 L702.0,634.0 L705.0,630.2 L708.0,626.3 L711.0,622.4 L714.0,618.5 L717.0,614.6 L720.0,610.8 L723.0,607.1 L726.0,603.5 L729.0,600.3 L732.0,597.3 L735.0,594.8 L738.0,592.9 L741.0,591.5 L744.0,590.9 L747.0,591.0 L750.0,591.8 L753.0,593.3 L756.0,595.4 L759.0,598.0 L762.0,601.2 L765.0,604.9 L768.0,609.0 L771.0,613.4 L774.0,617.9 L777.0,622.3 L780.0,626.6 L783.0,630.8 L786.0,634.8 L789.0,638.7 L792.0,642.5 L795.0,646.2 L798.0,649.8 L801.0,653.3 L804.0,656.6 L807.0,659.9 L810.0,663.1 L813.0,666.1 L816.0,669.1 L819.0,672.0 L822.0,674.8 L825.0,677.6 L828.0,680.2 L831.0,682.8 L834.0,685.4 L837.0,687.9 L840.0,690.3 L843.0,692.6 L846.0,694.9 L849.0,697.1 L852.0,699.3 L855.0,701.4 L858.0,703.4 L861.0,705.4 L864.0,707.3 L867.0,709.2 L870.0,711.0 L873.0,712.7 L876.0,714.4 L879.0,715.9 L882.0,717.5 L885.0,718.9 L888.0,720.3 L891.0,721.7 L894.0,722.9 L897.0,724.1 L900.0,725.3 L903.0,726.3 L906.0,727.3 L909.0,728.2 L912.0,729.1 L915.0,729.9 L918.0,730.6 L921.0,731.3 L924.0,731.8 L927.0,732.3 L930.0,732.8 L933.0,733.2 L936.0,733.5 L939.0,733.7 L942.0,733.8 L945.0,733.9 L948.0,733.9 L951.0,733.9 L954.0,733.7 L957.0,733.5 L960.0,733.3 L963.0,732.9 L966.0,732.5 L969.0,732.0 L972.0,731.4 L975.0,730.8 L978.0,730.1 L981.0,729.3 L984.0,728.4 L987.0,727.5 L990.0,726.4 L993.0,725.4 L996.0,724.2 L999.0,723.0 L1002.0,721.6 L1005.0,720.2 L1008.0,718.8 L1011.0,717.2 L1014.0,715.6 L1017.0,714.0 L1020.0,712.2 L1023.0,710.4 L1026.0,708.5 L1029.0,706.6 L1032.0,704.7 L1035.0,702.7 L1038.0,700.6 L1041.0,698.5 L1044.0,696.4 L1047.0,694.3 L1050.0,692.1 L1053.0,689.9 L1056.0,687.7 L1059.0,685.5 L1062.0,683.3 L1065.0,681.1 L1068.0,678.8 L1071.0,676.6 L1074.0,674.4 L1077.0,672.2 L1080.0,670.0 L1083.0,667.8 L1086.0,665.6 L1089.0,663.5 L1092.0,661.4 L1095.0,659.4 L1098.0,657.5 L1101.0,655.6 L1104.0,653.8 L1107.0,652.1 L1110.0,650.5 L1113.0,649.0 L1116.0,647.6 L1119.0,646.3 L1122.0,645.2 L1125.0,644.2 L1128.0,643.4 L1131.0,642.7 L1134.0,642.2 L1137.0,641.9 L1140.0,641.7 L1143.0,641.7 L1146.0,642.0 L1149.0,642.4 L1152.0,642.9 L1155.0,643.6 L1158.0,644.5 L1161.0,645.5 L1164.0,646.6 L1167.0,647.9 L1170.0,649.2 L1173.0,650.7 L1176.0,652.3 L1179.0,653.9 L1182.0,655.6 L1185.0,657.4 L1188.0,659.2 L1191.0,661.1 L1194.0,662.9 L1197.0,664.8 L1200.0,666.7 L1203.0,668.6 L1206.0,670.4 L1209.0,672.2 L1212.0,674.0 L1215.0,675.6 L1218.0,677.2 L1221.0,678.7 L1224.0,680.1 L1227.0,681.4 L1230.0,682.6 L1233.0,683.7 L1236.0,684.8 L1239.0,685.7 L1242.0,686.6 L1245.0,687.5 L1248.0,688.2 L1251.0,688.9 L1254.0,689.5 L1257.0,689.9 L1260.0,690.3 L1263.0,690.6 L1266.0,690.7 L1269.0,690.7 L1272.0,690.6 L1275.0,690.4 L1278.0,690.0 L1281.0,689.5 L1284.0,688.8 L1287.0,688.0 L1290.0,686.9 L1293.0,685.8 L1296.0,684.5 L1299.0,683.0 L1302.0,681.4 L1305.0,679.7 L1308.0,677.9 L1311.0,676.1 L1314.0,674.2 L1317.0,672.2 L1320.0,670.3 L1323.0,668.3 L1326.0,666.3 L1329.0,664.4 L1332.0,662.5 L1335.0,660.7 L1338.0,658.9 L1341.0,657.2 L1344.0,655.7 L1347.0,654.2 L1350.0,652.9 L1353.0,651.8 L1356.0,650.8 L1359.0,649.9 L1362.0,649.2 L1365.0,648.6 L1368.0,648.1 L1371.0,647.7 L1374.0,647.5 L1377.0,647.3 L1380.0,647.2 L1383.0,647.2 L1386.0,647.3 L1389.0,647.5 L1392.0,647.7 L1395.0,647.9 L1398.0,648.3 L1401.0,648.6 L1404.0,649.0 L1407.0,649.5 L1410.0,649.9 L1413.0,650.4 L1416.0,650.9 L1419.0,651.4 L1422.0,651.9 L1425.0,652.5 L1428.0,653.0 L1431.0,653.6 L1434.0,654.2 L1437.0,654.8 L1440.0,655.4 L1443.0,656.1 L1446.0,656.7 L1449.0,657.4 L1452.0,658.1 L1455.0,658.8 L1458.0,659.5 L1461.0,660.3 L1464.0,661.0 L1467.0,661.8 L1470.0,662.6 L1473.0,663.4 L1476.0,664.2 L1479.0,665.0 L1482.0,665.9 L1485.0,666.7 L1488.0,667.6 L1491.0,668.5 L1494.0,669.4 L1497.0,670.3 L1500.0,671.2 L1503.0,672.2 L1506.0,673.1 L1509.0,674.1 L1512.0,675.1 L1515.0,676.1 L1518.0,677.1 L1521.0,678.0 L1524.0,679.0 L1527.0,680.0 L1530.0,680.9 L1533.0,681.9 L1536.0,682.7 L1539.0,683.6 L1542.0,684.4 L1545.0,685.2 L1548.0,685.9 L1551.0,686.5 L1554.0,687.1 L1557.0,687.6 L1560.0,688.0 L1563.0,688.4 L1566.0,688.6 L1569.0,688.8 L1572.0,688.9 L1575.0,688.8 L1578.0,688.7 L1581.0,688.4 L1584.0,688.0 L1587.0,687.5 L1590.0,686.9 L1593.0,686.1 L1596.0,685.1 L1599.0,684.0 L1602.0,682.8 L1605.0,681.4 L1608.0,679.8 L1611.0,678.1 L1614.0,676.1 L1617.0,674.0 L1620.0,671.7" fill="none" stroke="#0070E4" stroke-width="5.2" stroke-linejoin="round" stroke-linecap="butt"/>
<path d="M150.0,281.5 L153.0,282.4 L156.0,283.5 L159.0,284.7 L162.0,286.0 L165.0,287.3 L168.0,288.8 L171.0,290.3 L174.0,291.8 L177.0,293.4 L180.0,295.1 L183.0,296.8 L186.0,298.5 L189.0,300.2 L192.0,301.9 L195.0,303.6 L198.0,305.2 L201.0,306.9 L204.0,308.5 L207.0,310.0 L210.0,311.6 L213.0,313.1 L216.0,314.5 L219.0,316.0 L222.0,317.4 L225.0,318.8 L228.0,320.1 L231.0,321.5 L234.0,322.8 L237.0,324.1 L240.0,325.4 L243.0,326.6 L246.0,327.9 L249.0,329.2 L252.0,330.4 L255.0,331.7 L258.0,333.1 L261.0,334.4 L264.0,335.9 L267.0,337.3 L270.0,338.8 L273.0,340.4 L276.0,342.1 L279.0,343.8 L282.0,345.7 L285.0,347.6 L288.0,349.7 L291.0,351.8 L294.0,354.1 L297.0,356.5 L300.0,359.1 L303.0,361.7 L306.0,364.4 L309.0,367.2 L312.0,370.1 L315.0,373.0 L318.0,376.1 L321.0,379.1 L324.0,382.2 L327.0,385.4 L330.0,388.6 L333.0,391.8 L336.0,395.0 L339.0,398.2 L342.0,401.5 L345.0,404.7 L348.0,407.9 L351.0,411.1 L354.0,414.3 L357.0,417.5 L360.0,420.7 L363.0,423.8 L366.0,427.0 L369.0,430.1 L372.0,433.2 L375.0,436.2 L378.0,439.3 L381.0,442.3 L384.0,445.2 L387.0,448.1 L390.0,451.0 L393.0,453.9 L396.0,456.7 L399.0,459.4 L402.0,462.1 L405.0,464.8 L408.0,467.3 L411.0,469.9 L414.0,472.3 L417.0,474.7 L420.0,477.1 L423.0,479.4 L426.0,481.6 L429.0,483.7 L432.0,485.7 L435.0,487.7 L438.0,489.6 L441.0,491.4 L444.0,493.1 L447.0,494.8 L450.0,496.3 L453.0,497.7 L456.0,499.1 L459.0,500.3 L462.0,501.5 L465.0,502.5 L468.0,503.5 L471.0,504.3 L474.0,505.1 L477.0,505.7 L480.0,506.3 L483.0,506.7 L486.0,507.1 L489.0,507.4 L492.0,507.5 L495.0,507.6 L498.0,507.5 L501.0,507.4 L504.0,507.2 L507.0,506.8 L510.0,506.4 L513.0,505.9 L516.0,505.3 L519.0,504.6 L522.0,503.8 L525.0,503.0 L528.0,502.2 L531.0,501.3 L534.0,500.4 L537.0,499.5 L540.0,498.6 L543.0,497.7 L546.0,496.8 L549.0,496.0 L552.0,495.2 L555.0,494.5 L558.0,493.8 L561.0,493.1 L564.0,492.5 L567.0,492.0 L570.0,491.5 L573.0,491.1 L576.0,490.7 L579.0,490.3 L582.0,490.0 L585.0,489.8 L588.0,489.6 L591.0,489.4 L594.0,489.3 L597.0,489.2 L600.0,489.2 L603.0,489.3 L606.0,489.3 L609.0,489.5 L612.0,489.6 L615.0,489.8 L618.0,490.1 L621.0,490.3 L624.0,490.5 L627.0,490.7 L630.0,490.9 L633.0,491.0 L636.0,491.1 L639.0,491.0 L642.0,490.9 L645.0,490.7 L648.0,490.3 L651.0,489.8 L654.0,489.1 L657.0,488.3 L660.0,487.3 L663.0,486.1 L666.0,484.7 L669.0,483.0 L672.0,481.2 L675.0,479.0 L678.0,476.6 L681.0,474.0 L684.0,471.1 L687.0,468.0 L690.0,464.6 L693.0,461.1 L696.0,457.4 L699.0,453.6 L702.0,449.6 L705.0,445.4 L708.0,441.3 L711.0,437.1 L714.0,433.1 L717.0,429.2 L720.0,425.7 L723.0,422.4 L726.0,419.6 L729.0,417.3 L732.0,415.6 L735.0,414.5 L738.0,413.9 L741.0,414.0 L744.0,414.5 L747.0,415.6 L750.0,417.2 L753.0,419.3 L756.0,421.8 L759.0,424.6 L762.0,427.7 L765.0,431.0 L768.0,434.4 L771.0,437.8 L774.0,441.3 L777.0,444.6 L780.0,447.9 L783.0,451.1 L786.0,454.2 L789.0,457.1 L792.0,460.0 L795.0,462.8 L798.0,465.6 L801.0,468.3 L804.0,471.0 L807.0,473.7 L810.0,476.4 L813.0,479.0 L816.0,481.6 L819.0,484.1 L822.0,486.6 L825.0,489.0 L828.0,491.4 L831.0,493.8 L834.0,496.1 L837.0,498.4 L840.0,500.7 L843.0,502.8 L846.0,505.0 L849.0,507.1 L852.0,509.1 L855.0,511.1 L858.0,513.0 L861.0,514.9 L864.0,516.7 L867.0,518.5 L870.0,520.2 L873.0,521.9 L876.0,523.5 L879.0,525.0 L882.0,526.5 L885.0,527.9 L888.0,529.3 L891.0,530.5 L894.0,531.8 L897.0,532.9 L900.0,534.0 L903.0,535.0 L906.0,536.0 L909.0,536.9 L912.0,537.7 L915.0,538.4 L918.0,539.1 L921.0,539.7 L924.0,540.3 L927.0,540.7 L930.0,541.1 L933.0,541.5 L936.0,541.7 L939.0,541.9 L942.0,542.0 L945.0,542.0 L948.0,542.0 L951.0,541.8 L954.0,541.6 L957.0,541.4 L960.0,541.0 L963.0,540.6 L966.0,540.1 L969.0,539.5 L972.0,538.8 L975.0,538.0 L978.0,537.2 L981.0,536.3 L984.0,535.3 L987.0,534.2 L990.0,533.1 L993.0,531.8 L996.0,530.5 L999.0,529.1 L1002.0,527.6 L1005.0,526.0 L1008.0,524.3 L1011.0,522.6 L1014.0,520.7 L1017.0,518.8 L1020.0,516.8 L1023.0,514.8 L1026.0,512.7 L1029.0,510.5 L1032.0,508.3 L1035.0,506.1 L1038.0,503.8 L1041.0,501.5 L1044.0,499.2 L1047.0,496.9 L1050.0,494.6 L1053.0,492.2 L1056.0,489.9 L1059.0,487.6 L1062.0,485.4 L1065.0,483.1 L1068.0,480.9 L1071.0,478.8 L1074.0,476.7 L1077.0,474.6 L1080.0,472.6 L1083.0,470.7 L1086.0,468.9 L1089.0,467.1 L1092.0,465.4 L1095.0,463.9 L1098.0,462.4 L1101.0,461.0 L1104.0,459.8 L1107.0,458.7 L1110.0,457.7 L1113.0,456.8 L1116.0,456.1 L1119.0,455.6 L1122.0,455.2 L1125.0,454.9 L1128.0,454.8 L1131.0,454.9 L1134.0,455.1 L1137.0,455.4 L1140.0,455.9 L1143.0,456.4 L1146.0,457.1 L1149.0,457.9 L1152.0,458.8 L1155.0,459.8 L1158.0,460.9 L1161.0,462.0 L1164.0,463.2 L1167.0,464.5 L1170.0,465.9 L1173.0,467.3 L1176.0,468.7 L1179.0,470.2 L1182.0,471.7 L1185.0,473.2 L1188.0,474.8 L1191.0,476.4 L1194.0,478.0 L1197.0,479.5 L1200.0,481.1 L1203.0,482.7 L1206.0,484.2 L1209.0,485.7 L1212.0,487.2 L1215.0,488.6 L1218.0,490.0 L1221.0,491.4 L1224.0,492.7 L1227.0,493.9 L1230.0,495.1 L1233.0,496.2 L1236.0,497.2 L1239.0,498.2 L1242.0,499.1 L1245.0,499.9 L1248.0,500.6 L1251.0,501.2 L1254.0,501.7 L1257.0,502.1 L1260.0,502.4 L1263.0,502.6 L1266.0,502.6 L1269.0,502.5 L1272.0,502.3 L1275.0,501.8 L1278.0,501.3 L1281.0,500.5 L1284.0,499.7 L1287.0,498.7 L1290.0,497.6 L1293.0,496.3 L1296.0,494.9 L1299.0,493.4 L1302.0,491.8 L1305.0,490.1 L1308.0,488.3 L1311.0,486.4 L1314.0,484.5 L1317.0,482.5 L1320.0,480.5 L1323.0,478.5 L1326.0,476.5 L1329.0,474.5 L1332.0,472.5 L1335.0,470.6 L1338.0,468.8 L1341.0,467.0 L1344.0,465.4 L1347.0,463.9 L1350.0,462.5 L1353.0,461.2 L1356.0,460.1 L1359.0,459.2 L1362.0,458.3 L1365.0,457.5 L1368.0,456.9 L1371.0,456.4 L1374.0,455.9 L1377.0,455.5 L1380.0,455.2 L1383.0,455.0 L1386.0,454.8 L1389.0,454.7 L1392.0,454.6 L1395.0,454.5 L1398.0,454.4 L1401.0,454.4 L1404.0,454.4 L1407.0,454.4 L1410.0,454.3 L1413.0,454.3 L1416.0,454.2 L1419.0,454.1 L1422.0,454.1 L1425.0,454.0 L1428.0,453.9 L1431.0,453.9 L1434.0,453.9 L1437.0,453.8 L1440.0,453.9 L1443.0,453.9 L1446.0,454.0 L1449.0,454.1 L1452.0,454.3 L1455.0,454.5 L1458.0,454.8 L1461.0,455.2 L1464.0,455.6 L1467.0,456.1 L1470.0,456.6 L1473.0,457.3 L1476.0,458.0 L1479.0,458.7 L1482.0,459.6 L1485.0,460.4 L1488.0,461.4 L1491.0,462.3 L1494.0,463.3 L1497.0,464.3 L1500.0,465.4 L1503.0,466.4 L1506.0,467.5 L1509.0,468.5 L1512.0,469.6 L1515.0,470.6 L1518.0,471.6 L1521.0,472.6 L1524.0,473.5 L1527.0,474.5 L1530.0,475.3 L1533.0,476.1 L1536.0,476.9 L1539.0,477.5 L1542.0,478.2 L1545.0,478.7 L1548.0,479.2 L1551.0,479.6 L1554.0,479.9 L1557.0,480.1 L1560.0,480.3 L1563.0,480.3 L1566.0,480.3 L1569.0,480.1 L1572.0,479.9 L1575.0,479.5 L1578.0,479.0 L1581.0,478.4 L1584.0,477.7 L1587.0,476.8 L1590.0,475.9 L1593.0,474.8 L1596.0,473.5 L1599.0,472.1 L1602.0,470.6 L1605.0,468.9 L1608.0,467.1 L1611.0,465.1 L1614.0,463.0 L1617.0,460.6 L1620.0,458.2" fill="none" stroke="#00AE64" stroke-opacity="0.4" stroke-width="10" stroke-linejoin="round" stroke-linecap="butt"/>
<path d="M150.0,281.5 L153.0,282.4 L156.0,283.5 L159.0,284.7 L162.0,286.0 L165.0,287.3 L168.0,288.8 L171.0,290.3 L174.0,291.8 L177.0,293.4 L180.0,295.1 L183.0,296.8 L186.0,298.5 L189.0,300.2 L192.0,301.9 L195.0,303.6 L198.0,305.2 L201.0,306.9 L204.0,308.5 L207.0,310.0 L210.0,311.6 L213.0,313.1 L216.0,314.5 L219.0,316.0 L222.0,317.4 L225.0,318.8 L228.0,320.1 L231.0,321.5 L234.0,322.8 L237.0,324.1 L240.0,325.4 L243.0,326.6 L246.0,327.9 L249.0,329.2 L252.0,330.4 L255.0,331.7 L258.0,333.1 L261.0,334.4 L264.0,335.9 L267.0,337.3 L270.0,338.8 L273.0,340.4 L276.0,342.1 L279.0,343.8 L282.0,345.7 L285.0,347.6 L288.0,349.7 L291.0,351.8 L294.0,354.1 L297.0,356.5 L300.0,359.1 L303.0,361.7 L306.0,364.4 L309.0,367.2 L312.0,370.1 L315.0,373.0 L318.0,376.1 L321.0,379.1 L324.0,382.2 L327.0,385.4 L330.0,388.6 L333.0,391.8 L336.0,395.0 L339.0,398.2 L342.0,401.5 L345.0,404.7 L348.0,407.9 L351.0,411.1 L354.0,414.3 L357.0,417.5 L360.0,420.7 L363.0,423.8 L366.0,427.0 L369.0,430.1 L372.0,433.2 L375.0,436.2 L378.0,439.3 L381.0,442.3 L384.0,445.2 L387.0,448.1 L390.0,451.0 L393.0,453.9 L396.0,456.7 L399.0,459.4 L402.0,462.1 L405.0,464.8 L408.0,467.3 L411.0,469.9 L414.0,472.3 L417.0,474.7 L420.0,477.1 L423.0,479.4 L426.0,481.6 L429.0,483.7 L432.0,485.7 L435.0,487.7 L438.0,489.6 L441.0,491.4 L444.0,493.1 L447.0,494.8 L450.0,496.3 L453.0,497.7 L456.0,499.1 L459.0,500.3 L462.0,501.5 L465.0,502.5 L468.0,503.5 L471.0,504.3 L474.0,505.1 L477.0,505.7 L480.0,506.3 L483.0,506.7 L486.0,507.1 L489.0,507.4 L492.0,507.5 L495.0,507.6 L498.0,507.5 L501.0,507.4 L504.0,507.2 L507.0,506.8 L510.0,506.4 L513.0,505.9 L516.0,505.3 L519.0,504.6 L522.0,503.8 L525.0,503.0 L528.0,502.2 L531.0,501.3 L534.0,500.4 L537.0,499.5 L540.0,498.6 L543.0,497.7 L546.0,496.8 L549.0,496.0 L552.0,495.2 L555.0,494.5 L558.0,493.8 L561.0,493.1 L564.0,492.5 L567.0,492.0 L570.0,491.5 L573.0,491.1 L576.0,490.7 L579.0,490.3 L582.0,490.0 L585.0,489.8 L588.0,489.6 L591.0,489.4 L594.0,489.3 L597.0,489.2 L600.0,489.2 L603.0,489.3 L606.0,489.3 L609.0,489.5 L612.0,489.6 L615.0,489.8 L618.0,490.1 L621.0,490.3 L624.0,490.5 L627.0,490.7 L630.0,490.9 L633.0,491.0 L636.0,491.1 L639.0,491.0 L642.0,490.9 L645.0,490.7 L648.0,490.3 L651.0,489.8 L654.0,489.1 L657.0,488.3 L660.0,487.3 L663.0,486.1 L666.0,484.7 L669.0,483.0 L672.0,481.2 L675.0,479.0 L678.0,476.6 L681.0,474.0 L684.0,471.1 L687.0,468.0 L690.0,464.6 L693.0,461.1 L696.0,457.4 L699.0,453.6 L702.0,449.6 L705.0,445.4 L708.0,441.3 L711.0,437.1 L714.0,433.1 L717.0,429.2 L720.0,425.7 L723.0,422.4 L726.0,419.6 L729.0,417.3 L732.0,415.6 L735.0,414.5 L738.0,413.9 L741.0,414.0 L744.0,414.5 L747.0,415.6 L750.0,417.2 L753.0,419.3 L756.0,421.8 L759.0,424.6 L762.0,427.7 L765.0,431.0 L768.0,434.4 L771.0,437.8 L774.0,441.3 L777.0,444.6 L780.0,447.9 L783.0,451.1 L786.0,454.2 L789.0,457.1 L792.0,460.0 L795.0,462.8 L798.0,465.6 L801.0,468.3 L804.0,471.0 L807.0,473.7 L810.0,476.4 L813.0,479.0 L816.0,481.6 L819.0,484.1 L822.0,486.6 L825.0,489.0 L828.0,491.4 L831.0,493.8 L834.0,496.1 L837.0,498.4 L840.0,500.7 L843.0,502.8 L846.0,505.0 L849.0,507.1 L852.0,509.1 L855.0,511.1 L858.0,513.0 L861.0,514.9 L864.0,516.7 L867.0,518.5 L870.0,520.2 L873.0,521.9 L876.0,523.5 L879.0,525.0 L882.0,526.5 L885.0,527.9 L888.0,529.3 L891.0,530.5 L894.0,531.8 L897.0,532.9 L900.0,534.0 L903.0,535.0 L906.0,536.0 L909.0,536.9 L912.0,537.7 L915.0,538.4 L918.0,539.1 L921.0,539.7 L924.0,540.3 L927.0,540.7 L930.0,541.1 L933.0,541.5 L936.0,541.7 L939.0,541.9 L942.0,542.0 L945.0,542.0 L948.0,542.0 L951.0,541.8 L954.0,541.6 L957.0,541.4 L960.0,541.0 L963.0,540.6 L966.0,540.1 L969.0,539.5 L972.0,538.8 L975.0,538.0 L978.0,537.2 L981.0,536.3 L984.0,535.3 L987.0,534.2 L990.0,533.1 L993.0,531.8 L996.0,530.5 L999.0,529.1 L1002.0,527.6 L1005.0,526.0 L1008.0,524.3 L1011.0,522.6 L1014.0,520.7 L1017.0,518.8 L1020.0,516.8 L1023.0,514.8 L1026.0,512.7 L1029.0,510.5 L1032.0,508.3 L1035.0,506.1 L1038.0,503.8 L1041.0,501.5 L1044.0,499.2 L1047.0,496.9 L1050.0,494.6 L1053.0,492.2 L1056.0,489.9 L1059.0,487.6 L1062.0,485.4 L1065.0,483.1 L1068.0,480.9 L1071.0,478.8 L1074.0,476.7 L1077.0,474.6 L1080.0,472.6 L1083.0,470.7 L1086.0,468.9 L1089.0,467.1 L1092.0,465.4 L1095.0,463.9 L1098.0,462.4 L1101.0,461.0 L1104.0,459.8 L1107.0,458.7 L1110.0,457.7 L1113.0,456.8 L1116.0,456.1 L1119.0,455.6 L1122.0,455.2 L1125.0,454.9 L1128.0,454.8 L1131.0,454.9 L1134.0,455.1 L1137.0,455.4 L1140.0,455.9 L1143.0,456.4 L1146.0,457.1 L1149.0,457.9 L1152.0,458.8 L1155.0,459.8 L1158.0,460.9 L1161.0,462.0 L1164.0,463.2 L1167.0,464.5 L1170.0,465.9 L1173.0,467.3 L1176.0,468.7 L1179.0,470.2 L1182.0,471.7 L1185.0,473.2 L1188.0,474.8 L1191.0,476.4 L1194.0,478.0 L1197.0,479.5 L1200.0,481.1 L1203.0,482.7 L1206.0,484.2 L1209.0,485.7 L1212.0,487.2 L1215.0,488.6 L1218.0,490.0 L1221.0,491.4 L1224.0,492.7 L1227.0,493.9 L1230.0,495.1 L1233.0,496.2 L1236.0,497.2 L1239.0,498.2 L1242.0,499.1 L1245.0,499.9 L1248.0,500.6 L1251.0,501.2 L1254.0,501.7 L1257.0,502.1 L1260.0,502.4 L1263.0,502.6 L1266.0,502.6 L1269.0,502.5 L1272.0,502.3 L1275.0,501.8 L1278.0,501.3 L1281.0,500.5 L1284.0,499.7 L1287.0,498.7 L1290.0,497.6 L1293.0,496.3 L1296.0,494.9 L1299.0,493.4 L1302.0,491.8 L1305.0,490.1 L1308.0,488.3 L1311.0,486.4 L1314.0,484.5 L1317.0,482.5 L1320.0,480.5 L1323.0,478.5 L1326.0,476.5 L1329.0,474.5 L1332.0,472.5 L1335.0,470.6 L1338.0,468.8 L1341.0,467.0 L1344.0,465.4 L1347.0,463.9 L1350.0,462.5 L1353.0,461.2 L1356.0,460.1 L1359.0,459.2 L1362.0,458.3 L1365.0,457.5 L1368.0,456.9 L1371.0,456.4 L1374.0,455.9 L1377.0,455.5 L1380.0,455.2 L1383.0,455.0 L1386.0,454.8 L1389.0,454.7 L1392.0,454.6 L1395.0,454.5 L1398.0,454.4 L1401.0,454.4 L1404.0,454.4 L1407.0,454.4 L1410.0,454.3 L1413.0,454.3 L1416.0,454.2 L1419.0,454.1 L1422.0,454.1 L1425.0,454.0 L1428.0,453.9 L1431.0,453.9 L1434.0,453.9 L1437.0,453.8 L1440.0,453.9 L1443.0,453.9 L1446.0,454.0 L1449.0,454.1 L1452.0,454.3 L1455.0,454.5 L1458.0,454.8 L1461.0,455.2 L1464.0,455.6 L1467.0,456.1 L1470.0,456.6 L1473.0,457.3 L1476.0,458.0 L1479.0,458.7 L1482.0,459.6 L1485.0,460.4 L1488.0,461.4 L1491.0,462.3 L1494.0,463.3 L1497.0,464.3 L1500.0,465.4 L1503.0,466.4 L1506.0,467.5 L1509.0,468.5 L1512.0,469.6 L1515.0,470.6 L1518.0,471.6 L1521.0,472.6 L1524.0,473.5 L1527.0,474.5 L1530.0,475.3 L1533.0,476.1 L1536.0,476.9 L1539.0,477.5 L1542.0,478.2 L1545.0,478.7 L1548.0,479.2 L1551.0,479.6 L1554.0,479.9 L1557.0,480.1 L1560.0,480.3 L1563.0,480.3 L1566.0,480.3 L1569.0,480.1 L1572.0,479.9 L1575.0,479.5 L1578.0,479.0 L1581.0,478.4 L1584.0,477.7 L1587.0,476.8 L1590.0,475.9 L1593.0,474.8 L1596.0,473.5 L1599.0,472.1 L1602.0,470.6 L1605.0,468.9 L1608.0,467.1 L1611.0,465.1 L1614.0,463.0 L1617.0,460.6 L1620.0,458.2" fill="none" stroke="#00AE64" stroke-width="5.2" stroke-linejoin="round" stroke-linecap="butt"/>
<path d="M150.0,117.4 L153.0,119.4 L156.0,121.3 L159.0,123.1 L162.0,124.9 L165.0,126.6 L168.0,128.3 L171.0,129.9 L174.0,131.5 L177.0,133.0 L180.0,134.5 L183.0,135.9 L186.0,137.4 L189.0,138.8 L192.0,140.2 L195.0,141.5 L198.0,142.9 L201.0,144.3 L204.0,145.6 L207.0,147.0 L210.0,148.4 L213.0,149.8 L216.0,151.2 L219.0,152.7 L222.0,154.1 L225.0,155.6 L228.0,157.2 L231.0,158.7 L234.0,160.3 L237.0,162.0 L240.0,163.6 L243.0,165.3 L246.0,167.1 L249.0,168.8 L252.0,170.6 L255.0,172.5 L258.0,174.4 L261.0,176.3 L264.0,178.3 L267.0,180.3 L270.0,182.3 L273.0,184.4 L276.0,186.5 L279.0,188.7 L282.0,191.0 L285.0,193.2 L288.0,195.6 L291.0,197.9 L294.0,200.3 L297.0,202.8 L300.0,205.3 L303.0,207.9 L306.0,210.5 L309.0,213.2 L312.0,216.0 L315.0,218.8 L318.0,221.6 L321.0,224.5 L324.0,227.5 L327.0,230.5 L330.0,233.6 L333.0,236.7 L336.0,239.9 L339.0,243.1 L342.0,246.4 L345.0,249.7 L348.0,253.0 L351.0,256.4 L354.0,259.8 L357.0,263.1 L360.0,266.5 L363.0,269.9 L366.0,273.2 L369.0,276.6 L372.0,279.9 L375.0,283.2 L378.0,286.5 L381.0,289.7 L384.0,292.9 L387.0,296.0 L390.0,299.1 L393.0,302.1 L396.0,305.0 L399.0,307.9 L402.0,310.7 L405.0,313.4 L408.0,316.0 L411.0,318.5 L414.0,321.0 L417.0,323.3 L420.0,325.5 L423.0,327.5 L426.0,329.5 L429.0,331.3 L432.0,333.0 L435.0,334.5 L438.0,336.0 L441.0,337.3 L444.0,338.4 L447.0,339.5 L450.0,340.5 L453.0,341.3 L456.0,342.0 L459.0,342.7 L462.0,343.2 L465.0,343.7 L468.0,344.0 L471.0,344.3 L474.0,344.5 L477.0,344.5 L480.0,344.6 L483.0,344.5 L486.0,344.4 L489.0,344.2 L492.0,343.9 L495.0,343.5 L498.0,343.2 L501.0,342.7 L504.0,342.2 L507.0,341.7 L510.0,341.1 L513.0,340.4 L516.0,339.7 L519.0,339.0 L522.0,338.3 L525.0,337.5 L528.0,336.7 L531.0,335.9 L534.0,335.1 L537.0,334.2 L540.0,333.3 L543.0,332.5 L546.0,331.6 L549.0,330.8 L552.0,330.0 L555.0,329.2 L558.0,328.4 L561.0,327.7 L564.0,327.0 L567.0,326.3 L570.0,325.8 L573.0,325.2 L576.0,324.8 L579.0,324.4 L582.0,324.1 L585.0,323.9 L588.0,323.7 L591.0,323.7 L594.0,323.8 L597.0,323.9 L600.0,324.1 L603.0,324.4 L606.0,324.7 L609.0,325.0 L612.0,325.4 L615.0,325.7 L618.0,326.1 L621.0,326.4 L624.0,326.7 L627.0,326.9 L630.0,327.1 L633.0,327.2 L636.0,327.3 L639.0,327.2 L642.0,327.0 L645.0,326.7 L648.0,326.2 L651.0,325.6 L654.0,324.9 L657.0,323.9 L660.0,322.8 L663.0,321.5 L666.0,319.9 L669.0,318.1 L672.0,316.1 L675.0,313.8 L678.0,311.2 L681.0,308.4 L684.0,305.2 L687.0,301.8 L690.0,298.2 L693.0,294.3 L696.0,290.3 L699.0,286.2 L702.0,282.0 L705.0,277.9 L708.0,273.9 L711.0,270.0 L714.0,266.4 L717.0,263.1 L720.0,260.1 L723.0,257.6 L726.0,255.5 L729.0,254.0 L732.0,253.1 L735.0,252.8 L738.0,253.2 L741.0,254.3 L744.0,256.0 L747.0,258.1 L750.0,260.7 L753.0,263.7 L756.0,267.0 L759.0,270.4 L762.0,274.0 L765.0,277.7 L768.0,281.4 L771.0,285.0 L774.0,288.5 L777.0,292.0 L780.0,295.3 L783.0,298.6 L786.0,301.8 L789.0,304.9 L792.0,307.9 L795.0,310.8 L798.0,313.7 L801.0,316.5 L804.0,319.2 L807.0,321.8 L810.0,324.4 L813.0,326.9 L816.0,329.4 L819.0,331.7 L822.0,334.0 L825.0,336.3 L828.0,338.5 L831.0,340.6 L834.0,342.7 L837.0,344.7 L840.0,346.7 L843.0,348.6 L846.0,350.4 L849.0,352.2 L852.0,353.9 L855.0,355.6 L858.0,357.2 L861.0,358.7 L864.0,360.2 L867.0,361.6 L870.0,363.0 L873.0,364.3 L876.0,365.6 L879.0,366.8 L882.0,367.9 L885.0,369.0 L888.0,370.0 L891.0,371.0 L894.0,371.9 L897.0,372.8 L900.0,373.6 L903.0,374.3 L906.0,375.0 L909.0,375.6 L912.0,376.2 L915.0,376.7 L918.0,377.2 L921.0,377.5 L924.0,377.9 L927.0,378.2 L930.0,378.4 L933.0,378.6 L936.0,378.7 L939.0,378.7 L942.0,378.7 L945.0,378.6 L948.0,378.5 L951.0,378.3 L954.0,378.1 L957.0,377.8 L960.0,377.4 L963.0,376.9 L966.0,376.4 L969.0,375.7 L972.0,375.0 L975.0,374.2 L978.0,373.2 L981.0,372.2 L984.0,371.1 L987.0,369.8 L990.0,368.4 L993.0,366.9 L996.0,365.3 L999.0,363.6 L1002.0,361.8 L1005.0,359.9 L1008.0,358.0 L1011.0,355.9 L1014.0,353.9 L1017.0,351.7 L1020.0,349.5 L1023.0,347.3 L1026.0,345.1 L1029.0,342.9 L1032.0,340.6 L1035.0,338.4 L1038.0,336.1 L1041.0,333.9 L1044.0,331.7 L1047.0,329.6 L1050.0,327.5 L1053.0,325.5 L1056.0,323.5 L1059.0,321.6 L1062.0,319.7 L1065.0,317.9 L1068.0,316.2 L1071.0,314.5 L1074.0,312.9 L1077.0,311.4 L1080.0,310.0 L1083.0,308.6 L1086.0,307.3 L1089.0,306.1 L1092.0,305.0 L1095.0,304.0 L1098.0,303.1 L1101.0,302.2 L1104.0,301.5 L1107.0,300.8 L1110.0,300.3 L1113.0,299.8 L1116.0,299.5 L1119.0,299.2 L1122.0,299.1 L1125.0,299.1 L1128.0,299.2 L1131.0,299.4 L1134.0,299.7 L1137.0,300.1 L1140.0,300.7 L1143.0,301.4 L1146.0,302.1 L1149.0,303.0 L1152.0,304.0 L1155.0,305.1 L1158.0,306.2 L1161.0,307.4 L1164.0,308.7 L1167.0,310.1 L1170.0,311.5 L1173.0,313.0 L1176.0,314.5 L1179.0,316.1 L1182.0,317.7 L1185.0,319.3 L1188.0,321.0 L1191.0,322.6 L1194.0,324.3 L1197.0,326.0 L1200.0,327.7 L1203.0,329.4 L1206.0,331.1 L1209.0,332.7 L1212.0,334.3 L1215.0,335.9 L1218.0,337.5 L1221.0,339.0 L1224.0,340.5 L1227.0,341.9 L1230.0,343.3 L1233.0,344.6 L1236.0,345.8 L1239.0,347.0 L1242.0,348.1 L1245.0,349.1 L1248.0,350.0 L1251.0,350.8 L1254.0,351.5 L1257.0,352.1 L1260.0,352.6 L1263.0,353.0 L1266.0,353.2 L1269.0,353.4 L1272.0,353.4 L1275.0,353.3 L1278.0,353.0 L1281.0,352.6 L1284.0,352.0 L1287.0,351.3 L1290.0,350.4 L1293.0,349.4 L1296.0,348.2 L1299.0,346.9 L1302.0,345.5 L1305.0,343.9 L1308.0,342.3 L1311.0,340.6 L1314.0,338.8 L1317.0,337.0 L1320.0,335.1 L1323.0,333.3 L1326.0,331.4 L1329.0,329.5 L1332.0,327.6 L1335.0,325.8 L1338.0,324.0 L1341.0,322.3 L1344.0,320.6 L1347.0,319.1 L1350.0,317.6 L1353.0,316.3 L1356.0,315.0 L1359.0,313.9 L1362.0,312.9 L1365.0,312.0 L1368.0,311.1 L1371.0,310.4 L1374.0,309.7 L1377.0,309.2 L1380.0,308.7 L1383.0,308.2 L1386.0,307.9 L1389.0,307.6 L1392.0,307.4 L1395.0,307.2 L1398.0,307.1 L1401.0,307.0 L1404.0,307.0 L1407.0,307.0 L1410.0,307.1 L1413.0,307.1 L1416.0,307.3 L1419.0,307.4 L1422.0,307.6 L1425.0,307.7 L1428.0,307.9 L1431.0,308.2 L1434.0,308.4 L1437.0,308.6 L1440.0,308.9 L1443.0,309.1 L1446.0,309.4 L1449.0,309.6 L1452.0,309.9 L1455.0,310.1 L1458.0,310.4 L1461.0,310.6 L1464.0,310.9 L1467.0,311.2 L1470.0,311.5 L1473.0,311.9 L1476.0,312.3 L1479.0,312.8 L1482.0,313.3 L1485.0,313.8 L1488.0,314.5 L1491.0,315.2 L1494.0,316.0 L1497.0,316.8 L1500.0,317.8 L1503.0,318.8 L1506.0,319.9 L1509.0,321.1 L1512.0,322.4 L1515.0,323.6 L1518.0,324.9 L1521.0,326.2 L1524.0,327.5 L1527.0,328.8 L1530.0,330.1 L1533.0,331.3 L1536.0,332.5 L1539.0,333.6 L1542.0,334.7 L1545.0,335.6 L1548.0,336.4 L1551.0,337.1 L1554.0,337.7 L1557.0,338.2 L1560.0,338.5 L1563.0,338.6 L1566.0,338.5 L1569.0,338.4 L1572.0,338.0 L1575.0,337.6 L1578.0,337.1 L1581.0,336.4 L1584.0,335.6 L1587.0,334.8 L1590.0,333.9 L1593.0,332.9 L1596.0,331.9 L1599.0,330.8 L1602.0,329.7 L1605.0,328.6 L1608.0,327.4 L1611.0,326.3 L1614.0,325.2 L1617.0,324.0 L1620.0,322.9" fill="none" stroke="#C277E2" stroke-opacity="0.4" stroke-width="10" stroke-linejoin="round" stroke-linecap="butt"/>
<path d="M150.0,117.4 L153.0,119.4 L156.0,121.3 L159.0,123.1 L162.0,124.9 L165.0,126.6 L168.0,128.3 L171.0,129.9 L174.0,131.5 L177.0,133.0 L180.0,134.5 L183.0,135.9 L186.0,137.4 L189.0,138.8 L192.0,140.2 L195.0,141.5 L198.0,142.9 L201.0,144.3 L204.0,145.6 L207.0,147.0 L210.0,148.4 L213.0,149.8 L216.0,151.2 L219.0,152.7 L222.0,154.1 L225.0,155.6 L228.0,157.2 L231.0,158.7 L234.0,160.3 L237.0,162.0 L240.0,163.6 L243.0,165.3 L246.0,167.1 L249.0,168.8 L252.0,170.6 L255.0,172.5 L258.0,174.4 L261.0,176.3 L264.0,178.3 L267.0,180.3 L270.0,182.3 L273.0,184.4 L276.0,186.5 L279.0,188.7 L282.0,191.0 L285.0,193.2 L288.0,195.6 L291.0,197.9 L294.0,200.3 L297.0,202.8 L300.0,205.3 L303.0,207.9 L306.0,210.5 L309.0,213.2 L312.0,216.0 L315.0,218.8 L318.0,221.6 L321.0,224.5 L324.0,227.5 L327.0,230.5 L330.0,233.6 L333.0,236.7 L336.0,239.9 L339.0,243.1 L342.0,246.4 L345.0,249.7 L348.0,253.0 L351.0,256.4 L354.0,259.8 L357.0,263.1 L360.0,266.5 L363.0,269.9 L366.0,273.2 L369.0,276.6 L372.0,279.9 L375.0,283.2 L378.0,286.5 L381.0,289.7 L384.0,292.9 L387.0,296.0 L390.0,299.1 L393.0,302.1 L396.0,305.0 L399.0,307.9 L402.0,310.7 L405.0,313.4 L408.0,316.0 L411.0,318.5 L414.0,321.0 L417.0,323.3 L420.0,325.5 L423.0,327.5 L426.0,329.5 L429.0,331.3 L432.0,333.0 L435.0,334.5 L438.0,336.0 L441.0,337.3 L444.0,338.4 L447.0,339.5 L450.0,340.5 L453.0,341.3 L456.0,342.0 L459.0,342.7 L462.0,343.2 L465.0,343.7 L468.0,344.0 L471.0,344.3 L474.0,344.5 L477.0,344.5 L480.0,344.6 L483.0,344.5 L486.0,344.4 L489.0,344.2 L492.0,343.9 L495.0,343.5 L498.0,343.2 L501.0,342.7 L504.0,342.2 L507.0,341.7 L510.0,341.1 L513.0,340.4 L516.0,339.7 L519.0,339.0 L522.0,338.3 L525.0,337.5 L528.0,336.7 L531.0,335.9 L534.0,335.1 L537.0,334.2 L540.0,333.3 L543.0,332.5 L546.0,331.6 L549.0,330.8 L552.0,330.0 L555.0,329.2 L558.0,328.4 L561.0,327.7 L564.0,327.0 L567.0,326.3 L570.0,325.8 L573.0,325.2 L576.0,324.8 L579.0,324.4 L582.0,324.1 L585.0,323.9 L588.0,323.7 L591.0,323.7 L594.0,323.8 L597.0,323.9 L600.0,324.1 L603.0,324.4 L606.0,324.7 L609.0,325.0 L612.0,325.4 L615.0,325.7 L618.0,326.1 L621.0,326.4 L624.0,326.7 L627.0,326.9 L630.0,327.1 L633.0,327.2 L636.0,327.3 L639.0,327.2 L642.0,327.0 L645.0,326.7 L648.0,326.2 L651.0,325.6 L654.0,324.9 L657.0,323.9 L660.0,322.8 L663.0,321.5 L666.0,319.9 L669.0,318.1 L672.0,316.1 L675.0,313.8 L678.0,311.2 L681.0,308.4 L684.0,305.2 L687.0,301.8 L690.0,298.2 L693.0,294.3 L696.0,290.3 L699.0,286.2 L702.0,282.0 L705.0,277.9 L708.0,273.9 L711.0,270.0 L714.0,266.4 L717.0,263.1 L720.0,260.1 L723.0,257.6 L726.0,255.5 L729.0,254.0 L732.0,253.1 L735.0,252.8 L738.0,253.2 L741.0,254.3 L744.0,256.0 L747.0,258.1 L750.0,260.7 L753.0,263.7 L756.0,267.0 L759.0,270.4 L762.0,274.0 L765.0,277.7 L768.0,281.4 L771.0,285.0 L774.0,288.5 L777.0,292.0 L780.0,295.3 L783.0,298.6 L786.0,301.8 L789.0,304.9 L792.0,307.9 L795.0,310.8 L798.0,313.7 L801.0,316.5 L804.0,319.2 L807.0,321.8 L810.0,324.4 L813.0,326.9 L816.0,329.4 L819.0,331.7 L822.0,334.0 L825.0,336.3 L828.0,338.5 L831.0,340.6 L834.0,342.7 L837.0,344.7 L840.0,346.7 L843.0,348.6 L846.0,350.4 L849.0,352.2 L852.0,353.9 L855.0,355.6 L858.0,357.2 L861.0,358.7 L864.0,360.2 L867.0,361.6 L870.0,363.0 L873.0,364.3 L876.0,365.6 L879.0,366.8 L882.0,367.9 L885.0,369.0 L888.0,370.0 L891.0,371.0 L894.0,371.9 L897.0,372.8 L900.0,373.6 L903.0,374.3 L906.0,375.0 L909.0,375.6 L912.0,376.2 L915.0,376.7 L918.0,377.2 L921.0,377.5 L924.0,377.9 L927.0,378.2 L930.0,378.4 L933.0,378.6 L936.0,378.7 L939.0,378.7 L942.0,378.7 L945.0,378.6 L948.0,378.5 L951.0,378.3 L954.0,378.1 L957.0,377.8 L960.0,377.4 L963.0,376.9 L966.0,376.4 L969.0,375.7 L972.0,375.0 L975.0,374.2 L978.0,373.2 L981.0,372.2 L984.0,371.1 L987.0,369.8 L990.0,368.4 L993.0,366.9 L996.0,365.3 L999.0,363.6 L1002.0,361.8 L1005.0,359.9 L1008.0,358.0 L1011.0,355.9 L1014.0,353.9 L1017.0,351.7 L1020.0,349.5 L1023.0,347.3 L1026.0,345.1 L1029.0,342.9 L1032.0,340.6 L1035.0,338.4 L1038.0,336.1 L1041.0,333.9 L1044.0,331.7 L1047.0,329.6 L1050.0,327.5 L1053.0,325.5 L1056.0,323.5 L1059.0,321.6 L1062.0,319.7 L1065.0,317.9 L1068.0,316.2 L1071.0,314.5 L1074.0,312.9 L1077.0,311.4 L1080.0,310.0 L1083.0,308.6 L1086.0,307.3 L1089.0,306.1 L1092.0,305.0 L1095.0,304.0 L1098.0,303.1 L1101.0,302.2 L1104.0,301.5 L1107.0,300.8 L1110.0,300.3 L1113.0,299.8 L1116.0,299.5 L1119.0,299.2 L1122.0,299.1 L1125.0,299.1 L1128.0,299.2 L1131.0,299.4 L1134.0,299.7 L1137.0,300.1 L1140.0,300.7 L1143.0,301.4 L1146.0,302.1 L1149.0,303.0 L1152.0,304.0 L1155.0,305.1 L1158.0,306.2 L1161.0,307.4 L1164.0,308.7 L1167.0,310.1 L1170.0,311.5 L1173.0,313.0 L1176.0,314.5 L1179.0,316.1 L1182.0,317.7 L1185.0,319.3 L1188.0,321.0 L1191.0,322.6 L1194.0,324.3 L1197.0,326.0 L1200.0,327.7 L1203.0,329.4 L1206.0,331.1 L1209.0,332.7 L1212.0,334.3 L1215.0,335.9 L1218.0,337.5 L1221.0,339.0 L1224.0,340.5 L1227.0,341.9 L1230.0,343.3 L1233.0,344.6 L1236.0,345.8 L1239.0,347.0 L1242.0,348.1 L1245.0,349.1 L1248.0,350.0 L1251.0,350.8 L1254.0,351.5 L1257.0,352.1 L1260.0,352.6 L1263.0,353.0 L1266.0,353.2 L1269.0,353.4 L1272.0,353.4 L1275.0,353.3 L1278.0,353.0 L1281.0,352.6 L1284.0,352.0 L1287.0,351.3 L1290.0,350.4 L1293.0,349.4 L1296.0,348.2 L1299.0,346.9 L1302.0,345.5 L1305.0,343.9 L1308.0,342.3 L1311.0,340.6 L1314.0,338.8 L1317.0,337.0 L1320.0,335.1 L1323.0,333.3 L1326.0,331.4 L1329.0,329.5 L1332.0,327.6 L1335.0,325.8 L1338.0,324.0 L1341.0,322.3 L1344.0,320.6 L1347.0,319.1 L1350.0,317.6 L1353.0,316.3 L1356.0,315.0 L1359.0,313.9 L1362.0,312.9 L1365.0,312.0 L1368.0,311.1 L1371.0,310.4 L1374.0,309.7 L1377.0,309.2 L1380.0,308.7 L1383.0,308.2 L1386.0,307.9 L1389.0,307.6 L1392.0,307.4 L1395.0,307.2 L1398.0,307.1 L1401.0,307.0 L1404.0,307.0 L1407.0,307.0 L1410.0,307.1 L1413.0,307.1 L1416.0,307.3 L1419.0,307.4 L1422.0,307.6 L1425.0,307.7 L1428.0,307.9 L1431.0,308.2 L1434.0,308.4 L1437.0,308.6 L1440.0,308.9 L1443.0,309.1 L1446.0,309.4 L1449.0,309.6 L1452.0,309.9 L1455.0,310.1 L1458.0,310.4 L1461.0,310.6 L1464.0,310.9 L1467.0,311.2 L1470.0,311.5 L1473.0,311.9 L1476.0,312.3 L1479.0,312.8 L1482.0,313.3 L1485.0,313.8 L1488.0,314.5 L1491.0,315.2 L1494.0,316.0 L1497.0,316.8 L1500.0,317.8 L1503.0,318.8 L1506.0,319.9 L1509.0,321.1 L1512.0,322.4 L1515.0,323.6 L1518.0,324.9 L1521.0,326.2 L1524.0,327.5 L1527.0,328.8 L1530.0,330.1 L1533.0,331.3 L1536.0,332.5 L1539.0,333.6 L1542.0,334.7 L1545.0,335.6 L1548.0,336.4 L1551.0,337.1 L1554.0,337.7 L1557.0,338.2 L1560.0,338.5 L1563.0,338.6 L1566.0,338.5 L1569.0,338.4 L1572.0,338.0 L1575.0,337.6 L1578.0,337.1 L1581.0,336.4 L1584.0,335.6 L1587.0,334.8 L1590.0,333.9 L1593.0,332.9 L1596.0,331.9 L1599.0,330.8 L1602.0,329.7 L1605.0,328.6 L1608.0,327.4 L1611.0,326.3 L1614.0,325.2 L1617.0,324.0 L1620.0,322.9" fill="none" stroke="#C277E2" stroke-width="5.2" stroke-linejoin="round" stroke-linecap="butt"/>
<line x1="480.2" y1="316.6" x2="509.0" y2="1054.0" stroke="#000" stroke-width="4.4" stroke-dasharray="27.6 27"/>
<line x1="648.8" y1="259.0" x2="648.8" y2="1052.5" stroke="#000" stroke-width="4.4" stroke-dasharray="27.6 27"/>
<line x1="938.8" y1="328.9" x2="971.9" y2="1109.0" stroke="#000" stroke-width="4.4" stroke-dasharray="27.6 27"/>
<line x1="1272.0" y1="284.8" x2="1272.0" y2="1073.4" stroke="#000" stroke-width="4.4" stroke-dasharray="27.3 27"/>
<line x1="1565.3" y1="269.0" x2="1565.3" y2="1091.5" stroke="#000" stroke-width="4.4" stroke-dasharray="27.6 27"/>
<line x1="1134.6" y1="266" x2="1167.4" y2="1024.5" stroke="#000" stroke-width="3.4"/>
<rect x="149.3" y="36.8" width="1470.5" height="1083.7" fill="none" stroke="#000" stroke-width="4.2"/>
<line x1="1619.8" y1="1120" x2="1619.8" y2="1141.5" stroke="#000" stroke-width="4.2"/>
<text x="1620.8" y="1191.4" class="tl" text-anchor="middle">400</text>
<line x1="1506.6" y1="1120" x2="1506.6" y2="1131.0" stroke="#000" stroke-width="4.2"/>
<line x1="1393.5" y1="1120" x2="1393.5" y2="1141.5" stroke="#000" stroke-width="4.2"/>
<text x="1394.5" y="1191.4" class="tl" text-anchor="middle">600</text>
<line x1="1280.3" y1="1120" x2="1280.3" y2="1131.0" stroke="#000" stroke-width="4.2"/>
<line x1="1167.2" y1="1120" x2="1167.2" y2="1141.5" stroke="#000" stroke-width="4.2"/>
<text x="1168.2" y="1191.4" class="tl" text-anchor="middle">800</text>
<line x1="1054.0" y1="1120" x2="1054.0" y2="1131.0" stroke="#000" stroke-width="4.2"/>
<line x1="940.8" y1="1120" x2="940.8" y2="1141.5" stroke="#000" stroke-width="4.2"/>
<text x="941.8" y="1191.4" class="tl" text-anchor="middle">1000</text>
<line x1="827.7" y1="1120" x2="827.7" y2="1131.0" stroke="#000" stroke-width="4.2"/>
<line x1="714.5" y1="1120" x2="714.5" y2="1141.5" stroke="#000" stroke-width="4.2"/>
<text x="715.5" y="1191.4" class="tl" text-anchor="middle">1200</text>
<line x1="601.3" y1="1120" x2="601.3" y2="1131.0" stroke="#000" stroke-width="4.2"/>
<line x1="488.2" y1="1120" x2="488.2" y2="1141.5" stroke="#000" stroke-width="4.2"/>
<text x="489.2" y="1191.4" class="tl" text-anchor="middle">1400</text>
<line x1="375.0" y1="1120" x2="375.0" y2="1131.0" stroke="#000" stroke-width="4.2"/>
<line x1="261.9" y1="1120" x2="261.9" y2="1141.5" stroke="#000" stroke-width="4.2"/>
<text x="262.9" y="1191.4" class="tl" text-anchor="middle">1600</text>
<line x1="148.7" y1="1120" x2="148.7" y2="1131.0" stroke="#000" stroke-width="4.2"/>
<text x="178.4" y="115.6" class="an">B5</text>
<text x="178.4" y="254.8" class="an">B4</text>
<text x="178.4" y="402.4" class="an">B3</text>
<text x="178.4" y="541.6" class="an">B2</text>
<text x="178.4" y="694.5" class="an">B1</text>
<text x="385.3" y="216.9" class="an">[BO<tspan font-size="34">3</tspan>]</text>
<text x="555.0" y="213.9" class="an">[BO<tspan font-size="34">4</tspan>]</text>
<text x="873.7" y="106.3" class="an">[SiO<tspan font-size="34">4</tspan>]</text>
<text x="873.7" y="175.0" class="an">[BO<tspan font-size="34">4</tspan>]</text>
<text x="873.7" y="243.7" class="an">[TiO<tspan font-size="34">4</tspan>]</text>
<text x="1172.9" y="175.6" class="an">[BO<tspan font-size="34">3</tspan>]</text>
<text x="1171.5" y="243.8" class="an">Si-O-Al</text>
<text x="1457.4" y="200.4" class="an">[SiO<tspan font-size="34">4</tspan>]</text>
<text x="374.4" y="293.6" class="an">1396</text>
<text x="532.9" y="303.8" class="an">1260</text>
<text x="837.9" y="333.1" class="an">996</text>
<text x="1179.9" y="314.2" class="an">710</text>
<text x="1464.9" y="294.0" class="an">450</text>
<text x="369.6" y="428.8" class="an">1386</text>
<text x="854.1" y="505.6" class="an">994</text>
<text x="371.1" y="585.6" class="an">1379</text>
<text x="864.2" y="682.7" class="an">989</text>
<text x="380.1" y="782.2" class="an">1377</text>
<text x="870.2" y="865.3" class="an">985</text>
<text x="386.0" y="954.9" class="an">1375</text>
<text x="882.1" y="1035.6" class="an">981</text>
<text x="600" y="1302" class="ax">Wavenumber (cm<tspan font-size="44" dy="-28">-1</tspan><tspan dy="28">)</tspan></text>
<text transform="translate(75.3 843.5) rotate(-90)" x="0" y="0" class="ay">Absorbance (a. u.)</text></svg>
</body></html>
